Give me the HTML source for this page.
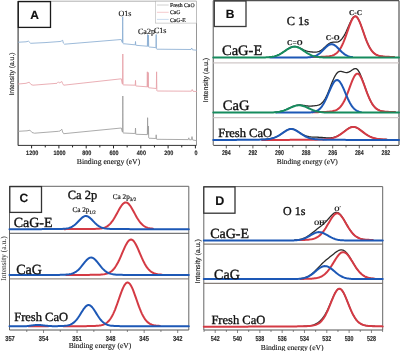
<!DOCTYPE html>
<html><head><meta charset="utf-8"><style>
html,body{margin:0;padding:0;background:#fff;}
body{width:400px;height:351px;overflow:hidden;}
svg{display:block;will-change:transform;filter:blur(0.35px);}
text{text-rendering:geometricPrecision;}
</style></head><body>
<svg width="400" height="351" viewBox="0 0 400 351">
<rect width="400" height="351" fill="#fff"/>
<line x1="18" y1="1.2" x2="196.5" y2="1.2" stroke="#9a9a9a" stroke-width="0.8"/>
<line x1="196.5" y1="1.2" x2="196.5" y2="145" stroke="#8a8a8a" stroke-width="0.9"/>
<line x1="18.1" y1="1.2" x2="18.1" y2="145.4" stroke="#444" stroke-width="1.2"/>
<line x1="18" y1="145.4" x2="196.5" y2="145.4" stroke="#333" stroke-width="1.0"/>
<rect x="18.3" y="1.6" width="32.2" height="25.8" fill="#fff" stroke="#1a1a1a" stroke-width="1.3"/>
<text x="34.5" y="18.8" font-family='"Liberation Sans", sans-serif' font-size="12" text-anchor="middle" font-weight="bold" fill="#111" stroke="#111" stroke-width="0.15" >A</text>
<rect x="155.6" y="1.2" width="40.9" height="21.9" fill="#fff" stroke="#b4b4b4" stroke-width="0.6"/>
<line x1="156.9" y1="5" x2="168.7" y2="5" stroke="#c4c4c4" stroke-width="0.8"/>
<line x1="156.9" y1="12.3" x2="168.7" y2="12.3" stroke="#f2bcc0" stroke-width="0.8"/>
<line x1="156.9" y1="19.4" x2="168.7" y2="19.4" stroke="#bcd2ea" stroke-width="0.8"/>
<text x="170" y="7" font-family='"Liberation Serif", serif' font-size="5.7" text-anchor="start" font-weight="normal" fill="#222" stroke="#222" stroke-width="0.2" >Fresh CaO</text>
<text x="170" y="14.4" font-family='"Liberation Serif", serif' font-size="5.7" text-anchor="start" font-weight="normal" fill="#222" stroke="#222" stroke-width="0.2" >CaG</text>
<text x="170" y="21.5" font-family='"Liberation Serif", serif' font-size="5.7" text-anchor="start" font-weight="normal" fill="#222" stroke="#222" stroke-width="0.2" >CaG-E</text>
<path d="M18.5,42.2 L26,41.8 L28.5,41.2 L30.7,43.3 L45,42.6 L60,41.5 L61.2,41.2 L62,40.6 L62.7,40.3 L63.3,43 L64.5,44.2 L121.2,39.5 L122.1,42.2 L122.45,42.6 L122.7,16.7 L122.95,43.3 L123.4,43.7 L134.8,44.8 L135.2,45 L135.5,41.5 L135.8,45.2 L136.2,45.3 L147.1,46.2 L147.35,46.2 L147.6,34.5 L147.85,46.3 L148.2,46.3 L148.45,35 L148.7,46.6 L149.2,47 L155.8,47.6 L155.95,47.6 L156.2,34.5 L156.45,48.8 L156.8,49.2 L191,49.5 L191.7,48 L192.5,49.8 L196.5,50.2" fill="none" stroke="#8aaed2" stroke-width="0.85" stroke-linejoin="round" stroke-linecap="round" />
<path d="M18.5,84 L26,83.3 L29.2,82.2 L31,84.5 L33,85.2 L57,83.3 L58.5,81.8 L59.5,83 L61.8,81.5 L62.6,83.5 L63.7,85.2 L121.3,78.8 L122.2,83.8 L122.55,84 L122.8,54 L123.05,84.7 L123.4,84.9 L134.8,85.2 L135.2,85.5 L135.5,80.4 L135.8,85.8 L136.2,86 L147,86.8 L147.1,86.8 L147.35,71.8 L147.6,87 L148,87 L148.25,72.5 L148.5,87.6 L149,87.8 L156.1,88.5 L156.35,88.5 L156.6,71.8 L156.85,90.6 L157.2,91 L191.5,91.2 L192.2,89.5 L193,91.3 L196.5,91.5" fill="none" stroke="#e6a0a8" stroke-width="0.85" stroke-linejoin="round" stroke-linecap="round" />
<path d="M18.5,131.3 L27,130.8 L30,130.2 L32,132.5 L34.5,133.2 L58.5,131.3 L60,131 L61.8,129.2 L62.6,132 L63.7,133.7 L121.3,128 L122.2,131.5 L122.55,132 L122.8,96 L123.05,132.8 L123.4,133 L134.8,133.5 L135.2,133.8 L135.5,128 L135.8,134.2 L136.2,134.3 L147.2,134.6 L147.35,134.6 L147.6,117.7 L147.85,134.2 L148.2,134.5 L148.45,126 L148.7,137.8 L149,138.2 L155.7,138.5 L155.95,138.6 L156.2,134.8 L156.45,139.1 L156.8,139.3 L188.3,139.6 L188.8,137.8 L189.3,139.7 L191.4,139.8 L192,136.6 L192.7,140 L196.5,140.6" fill="none" stroke="#9c9c9c" stroke-width="0.85" stroke-linejoin="round" stroke-linecap="round" />
<text x="118.5" y="15.8" font-family='"Liberation Serif", serif' font-size="8" text-anchor="start" font-weight="normal" fill="#111" stroke="#111" stroke-width="0.15" >O1s</text>
<text x="138" y="34.4" font-family='"Liberation Serif", serif' font-size="8" text-anchor="start" font-weight="normal" fill="#111" stroke="#111" stroke-width="0.15" >Ca2p</text>
<text x="154" y="33" font-family='"Liberation Serif", serif' font-size="8" text-anchor="start" font-weight="normal" fill="#111" stroke="#111" stroke-width="0.15" >C1s</text>
<line x1="195.4" y1="145.4" x2="195.4" y2="148.4" stroke="#222" stroke-width="1.0"/>
<line x1="181.75" y1="145.4" x2="181.75" y2="147.4" stroke="#222" stroke-width="1.0"/>
<line x1="168.1" y1="145.4" x2="168.1" y2="148.4" stroke="#222" stroke-width="1.0"/>
<line x1="154.45" y1="145.4" x2="154.45" y2="147.4" stroke="#222" stroke-width="1.0"/>
<line x1="140.8" y1="145.4" x2="140.8" y2="148.4" stroke="#222" stroke-width="1.0"/>
<line x1="127.15" y1="145.4" x2="127.15" y2="147.4" stroke="#222" stroke-width="1.0"/>
<line x1="113.5" y1="145.4" x2="113.5" y2="148.4" stroke="#222" stroke-width="1.0"/>
<line x1="99.85" y1="145.4" x2="99.85" y2="147.4" stroke="#222" stroke-width="1.0"/>
<line x1="86.2" y1="145.4" x2="86.2" y2="148.4" stroke="#222" stroke-width="1.0"/>
<line x1="72.55" y1="145.4" x2="72.55" y2="147.4" stroke="#222" stroke-width="1.0"/>
<line x1="58.9" y1="145.4" x2="58.9" y2="148.4" stroke="#222" stroke-width="1.0"/>
<line x1="45.25" y1="145.4" x2="45.25" y2="147.4" stroke="#222" stroke-width="1.0"/>
<line x1="31.6" y1="145.4" x2="31.6" y2="148.4" stroke="#222" stroke-width="1.0"/>
<text x="196" y="154.9" font-family='"Liberation Sans", sans-serif' font-size="6.3" text-anchor="middle" font-weight="bold" fill="#2a2a2a" stroke="#2a2a2a" stroke-width="0.15" textLength="3.05" lengthAdjust="spacingAndGlyphs">0</text>
<text x="168.7" y="154.9" font-family='"Liberation Sans", sans-serif' font-size="6.3" text-anchor="middle" font-weight="bold" fill="#2a2a2a" stroke="#2a2a2a" stroke-width="0.15" textLength="9.15" lengthAdjust="spacingAndGlyphs">200</text>
<text x="141.4" y="154.9" font-family='"Liberation Sans", sans-serif' font-size="6.3" text-anchor="middle" font-weight="bold" fill="#2a2a2a" stroke="#2a2a2a" stroke-width="0.15" textLength="9.15" lengthAdjust="spacingAndGlyphs">400</text>
<text x="114.1" y="154.9" font-family='"Liberation Sans", sans-serif' font-size="6.3" text-anchor="middle" font-weight="bold" fill="#2a2a2a" stroke="#2a2a2a" stroke-width="0.15" textLength="9.15" lengthAdjust="spacingAndGlyphs">600</text>
<text x="86.8" y="154.9" font-family='"Liberation Sans", sans-serif' font-size="6.3" text-anchor="middle" font-weight="bold" fill="#2a2a2a" stroke="#2a2a2a" stroke-width="0.15" textLength="9.15" lengthAdjust="spacingAndGlyphs">800</text>
<text x="59.5" y="154.9" font-family='"Liberation Sans", sans-serif' font-size="6.3" text-anchor="middle" font-weight="bold" fill="#2a2a2a" stroke="#2a2a2a" stroke-width="0.15" textLength="12.20" lengthAdjust="spacingAndGlyphs">1000</text>
<text x="32.2" y="154.9" font-family='"Liberation Sans", sans-serif' font-size="6.3" text-anchor="middle" font-weight="bold" fill="#2a2a2a" stroke="#2a2a2a" stroke-width="0.15" textLength="12.20" lengthAdjust="spacingAndGlyphs">1200</text>
<text x="108.5" y="163.8" font-family='"Liberation Serif", serif' font-size="7.7" text-anchor="middle" font-weight="normal" fill="#1a1a1a" stroke="#1a1a1a" stroke-width="0.15" >Binding energy (eV)</text>
<text x="0" y="0" font-family='"Liberation Sans", sans-serif' font-size="6.8" text-anchor="middle" font-weight="normal" fill="#222" stroke="#222" stroke-width="0.15" transform="translate(14.2,74) rotate(-90)">Intensity (a.u.)</text>
<line x1="213.3" y1="0.6" x2="399" y2="0.6" stroke="#505050" stroke-width="1.1"/>
<line x1="399" y1="0.8" x2="399" y2="145" stroke="#555" stroke-width="1.2"/>
<line x1="213.3" y1="0.8" x2="213.3" y2="145" stroke="#888" stroke-width="1.4"/>
<line x1="213.3" y1="145.4" x2="399" y2="145.4" stroke="#444" stroke-width="1.0"/>
<line x1="213.3" y1="62.9" x2="399" y2="62.9" stroke="#d0c8c8" stroke-width="1.4"/>
<line x1="213.3" y1="117.6" x2="399" y2="117.6" stroke="#d0c8c8" stroke-width="1.4"/>
<rect x="214.3" y="1" width="31.7" height="25.5" fill="#fff" stroke="#3a3a3a" stroke-width="1.3"/>
<text x="230" y="17.5" font-family='"Liberation Sans", sans-serif' font-size="12" text-anchor="middle" font-weight="bold" fill="#111" stroke="#111" stroke-width="0.15" >B</text>
<text x="286.8" y="24.6" font-family='"Liberation Serif", serif' font-size="12.3" text-anchor="start" font-weight="normal" fill="#111" stroke="#111" stroke-width="0.35" >C 1s</text>
<path d="M269.21,57.08 L270.21,56.98 L271.21,56.86 L272.2,56.7 L273.2,56.51 L274.2,56.28 L275.2,56.01 L276.2,55.69 L277.2,55.32 L278.2,54.89 L279.19,54.42 L280.19,53.89 L281.19,53.31 L282.19,52.69 L283.19,52.04 L284.19,51.36 L285.18,50.67 L286.18,49.98 L287.18,49.31 L288.18,48.67 L289.18,48.09 L290.18,47.58 L291.17,47.15 L292.17,46.82 L293.17,46.6 L294.17,46.49 L295.17,46.5 L296.17,46.62 L297.16,46.85 L298.16,47.17 L299.16,47.57 L300.16,48.03 L301.16,48.53 L302.16,49.04 L303.15,49.55 L304.15,50.02 L305.15,50.45 L306.15,50.83 L307.15,51.14 L308.15,51.4 L309.15,51.6 L310.14,51.76 L311.14,51.89 L312.14,51.99 L313.14,52.07 L314.14,52.12 L315.14,52.13 L316.13,52.09 L317.13,51.96 L318.13,51.73 L319.13,51.38 L320.13,50.9 L321.13,50.29 L322.12,49.56 L323.12,48.72 L324.12,47.81 L325.12,46.87 L326.12,45.92 L327.12,45.03 L328.11,44.22 L329.11,43.52 L330.11,42.97 L331.11,42.56 L332.11,42.3 L333.11,42.17 L334.1,42.14 L335.1,42.15 L336.1,42.14 L337.1,42.06 L338.1,41.84 L339.1,41.41 L340.1,40.76 L341.09,39.84 L342.09,38.66 L343.09,37.24 L344.09,35.59 L345.09,33.74 L346.09,31.72 L347.08,29.56 L348.08,27.31 L349.08,25.02 L350.08,22.79 L351.08,20.71 L352.08,18.9 L353.07,17.47 L354.07,16.52 L355.07,16.15 L356.07,16.38 L357.07,17.23 L358.07,18.65 L359.06,20.56 L360.06,22.87 L361.06,25.47 L362.06,28.26 L363.06,31.15 L364.06,34.03 L365.05,36.85 L366.05,39.53 L367.05,42.03 L368.05,44.32 L369.05,46.37 L370.05,48.19 L371.05,49.76 L372.04,51.1 L373.04,52.23 L374.04,53.16 L375.04,53.93 L376.04,54.55 L377.04,55.05 L378.03,55.44 L379.03,55.75 L380.03,56 L381.03,56.19 L382.03,56.34 L383.03,56.47 L384.02,56.56 L385.02,56.64 L386.02,56.71 L387.02,56.76 L388.02,56.81 L389.02,56.85 L390.01,56.89 L391.01,56.92 L392.01,56.95 L393.01,56.98 L394.01,57.01" fill="none" stroke="#2a2a2a" stroke-width="1.3" stroke-linejoin="round" stroke-linecap="round" />
<path d="M311.14,57.12 L312.14,57.1 L313.14,57.08 L314.14,57.06 L315.14,57.04 L316.13,57.02 L317.13,56.99 L318.13,56.97 L319.13,56.94 L320.13,56.91 L321.13,56.87 L322.12,56.83 L323.12,56.79 L324.12,56.73 L325.12,56.67 L326.12,56.6 L327.12,56.51 L328.11,56.4 L329.11,56.27 L330.11,56.09 L331.11,55.87 L332.11,55.59 L333.11,55.24 L334.1,54.79 L335.1,54.23 L336.1,53.53 L337.1,52.68 L338.1,51.64 L339.1,50.4 L340.1,48.94 L341.09,47.24 L342.09,45.29 L343.09,43.11 L344.09,40.71 L345.09,38.1 L346.09,35.34 L347.08,32.48 L348.08,29.59 L349.08,26.74 L350.08,24.05 L351.08,21.6 L352.08,19.5 L353.07,17.87 L354.07,16.79 L355.07,16.32 L356.07,16.49 L357.07,17.3 L358.07,18.69 L359.06,20.59 L360.06,22.89 L361.06,25.48 L362.06,28.27 L363.06,31.15 L364.06,34.04 L365.05,36.85 L366.05,39.53 L367.05,42.03 L368.05,44.32 L369.05,46.37 L370.05,48.19 L371.05,49.76 L372.04,51.1 L373.04,52.23 L374.04,53.16 L375.04,53.93 L376.04,54.55 L377.04,55.05 L378.03,55.44 L379.03,55.75 L380.03,56 L381.03,56.19 L382.03,56.34 L383.03,56.47 L384.02,56.56 L385.02,56.64 L386.02,56.71 L387.02,56.76 L388.02,56.81 L389.02,56.85 L390.01,56.89 L391.01,56.92 L392.01,56.95 L393.01,56.98 L394.01,57.01" fill="none" stroke="#d43a44" stroke-width="2.0" stroke-linejoin="round" stroke-linecap="round" />
<path d="M270.21,57.5 L271.21,57.5 L272.2,57.5 L273.2,57.5 L274.2,57.5 L275.2,57.5 L276.2,57.5 L277.2,57.5 L278.2,57.5 L279.19,57.5 L280.19,57.5 L281.19,57.5 L282.19,57.5 L283.19,57.5 L284.19,57.5 L285.18,57.5 L286.18,57.5 L287.18,57.5 L288.18,57.5 L289.18,57.5 L290.18,57.5 L291.17,57.5 L292.17,57.5 L293.17,57.5 L294.17,57.5 L295.17,57.5 L296.17,57.5 L297.16,57.5 L298.16,57.5 L299.16,57.5 L300.16,57.5 L301.16,57.49 L302.16,57.49 L303.15,57.48 L304.15,57.47 L305.15,57.46 L306.15,57.43 L307.15,57.4 L308.15,57.35 L309.15,57.28 L310.14,57.19 L311.14,57.06 L312.14,56.89 L313.14,56.67 L314.14,56.38 L315.14,56.03 L316.13,55.59 L317.13,55.06 L318.13,54.44 L319.13,53.72 L320.13,52.91 L321.13,52.01 L322.12,51.04 L323.12,50.03 L324.12,49 L325.12,47.98 L326.12,47.02 L327.12,46.14 L328.11,45.4 L329.11,44.81 L330.11,44.41 L331.11,44.22 L332.11,44.24 L333.11,44.48 L334.1,44.92 L335.1,45.55 L336.1,46.32 L337.1,47.22 L338.1,48.2 L339.1,49.22 L340.1,50.25 L341.09,51.26 L342.09,52.21 L343.09,53.09 L344.09,53.88 L345.09,54.58 L346.09,55.18 L347.08,55.69 L348.08,56.11 L349.08,56.45 L350.08,56.72 L351.08,56.93 L352.08,57.09" fill="none" stroke="#1d58b6" stroke-width="2.0" stroke-linejoin="round" stroke-linecap="round" />
<path d="M213.3,57.5 L214.3,57.5 L215.3,57.5 L216.3,57.5 L217.29,57.5 L218.29,57.5 L219.29,57.5 L220.29,57.5 L221.29,57.5 L222.29,57.5 L223.28,57.5 L224.28,57.5 L225.28,57.5 L226.28,57.5 L227.28,57.5 L228.28,57.5 L229.27,57.5 L230.27,57.5 L231.27,57.5 L232.27,57.5 L233.27,57.5 L234.27,57.5 L235.26,57.5 L236.26,57.5 L237.26,57.5 L238.26,57.5 L239.26,57.5 L240.26,57.5 L241.25,57.5 L242.25,57.5 L243.25,57.5 L244.25,57.5 L245.25,57.5 L246.25,57.5 L247.25,57.5 L248.24,57.5 L249.24,57.5 L250.24,57.5 L251.24,57.5 L252.24,57.5 L253.24,57.5 L254.23,57.5 L255.23,57.5 L256.23,57.5 L257.23,57.5 L258.23,57.49 L259.23,57.49 L260.22,57.48 L261.22,57.48 L262.22,57.47 L263.22,57.45 L264.22,57.43 L265.22,57.41 L266.21,57.37 L267.21,57.33 L268.21,57.27 L269.21,57.19 L270.21,57.09 L271.21,56.97 L272.2,56.81 L273.2,56.62 L274.2,56.4 L275.2,56.13 L276.2,55.81 L277.2,55.44 L278.2,55.02 L279.19,54.55 L280.19,54.03 L281.19,53.45 L282.19,52.84 L283.19,52.19 L284.19,51.51 L285.18,50.82 L286.18,50.14 L287.18,49.47 L288.18,48.84 L289.18,48.27 L290.18,47.76 L291.17,47.34 L292.17,47.02 L293.17,46.81 L294.17,46.71 L295.17,46.73 L296.17,46.86 L297.16,47.12 L298.16,47.47 L299.16,47.92 L300.16,48.46 L301.16,49.05 L302.16,49.69 L303.15,50.37 L304.15,51.06 L305.15,51.74 L306.15,52.41 L307.15,53.05 L308.15,53.65 L309.15,54.21 L310.14,54.72 L311.14,55.17 L312.14,55.57 L313.14,55.92 L314.14,56.22 L315.14,56.48 L316.13,56.69 L317.13,56.87 L318.13,57.01 L319.13,57.13 L320.13,57.22 L321.13,57.29 L322.12,57.34 L323.12,57.38 L324.12,57.42 L325.12,57.44 L326.12,57.46 L327.12,57.47 L328.11,57.48 L329.11,57.49 L330.11,57.49 L331.11,57.49 L332.11,57.5 L333.11,57.5 L334.1,57.5 L335.1,57.5 L336.1,57.5 L337.1,57.5 L338.1,57.5 L339.1,57.5 L340.1,57.5 L341.09,57.5 L342.09,57.5 L343.09,57.5 L344.09,57.5 L345.09,57.5 L346.09,57.5 L347.08,57.5 L348.08,57.5 L349.08,57.5 L350.08,57.5 L351.08,57.5 L352.08,57.5 L353.07,57.5 L354.07,57.5 L355.07,57.5 L356.07,57.5 L357.07,57.5 L358.07,57.5 L359.06,57.5 L360.06,57.5 L361.06,57.5 L362.06,57.5 L363.06,57.5 L364.06,57.5 L365.05,57.5 L366.05,57.5 L367.05,57.5 L368.05,57.5 L369.05,57.5 L370.05,57.5 L371.05,57.5 L372.04,57.5 L373.04,57.5 L374.04,57.5 L375.04,57.5 L376.04,57.5 L377.04,57.5 L378.03,57.5 L379.03,57.5 L380.03,57.5 L381.03,57.5 L382.03,57.5 L383.03,57.5 L384.02,57.5 L385.02,57.5 L386.02,57.5 L387.02,57.5 L388.02,57.5 L389.02,57.5 L390.01,57.5 L391.01,57.5 L392.01,57.5 L393.01,57.5 L394.01,57.5 L395.01,57.5 L396,57.5 L397,57.5 L398,57.5 L399,57.5" fill="none" stroke="#168c5e" stroke-width="2.0" stroke-linejoin="round" stroke-linecap="round" />
<text x="222" y="54.8" font-family='"Liberation Serif", serif' font-size="14.5" text-anchor="start" font-weight="normal" fill="#111" stroke="#111" stroke-width="0.35" >CaG-E</text>
<text x="294.8" y="44.6" font-family='"Liberation Serif", serif' font-size="7.5" text-anchor="middle" font-weight="bold" fill="#1a1a1a" stroke="#1a1a1a" stroke-width="0.15" >C=O</text>
<text x="332.6" y="39.5" font-family='"Liberation Serif", serif' font-size="7.5" text-anchor="middle" font-weight="bold" fill="#1a1a1a" stroke="#1a1a1a" stroke-width="0.15" >C-O</text>
<text x="355.6" y="14.6" font-family='"Liberation Serif", serif' font-size="7.5" text-anchor="middle" font-weight="bold" fill="#1a1a1a" stroke="#1a1a1a" stroke-width="0.15" >C-C</text>
<path d="M275.2,112.17 L276.2,112.08 L277.2,111.96 L278.2,111.82 L279.19,111.65 L280.19,111.45 L281.19,111.21 L282.19,110.95 L283.19,110.64 L284.19,110.3 L285.18,109.92 L286.18,109.52 L287.18,109.09 L288.18,108.63 L289.18,108.17 L290.18,107.7 L291.17,107.23 L292.17,106.79 L293.17,106.37 L294.17,106 L295.17,105.67 L296.17,105.41 L297.16,105.21 L298.16,105.08 L299.16,105.01 L300.16,105.02 L301.16,105.08 L302.16,105.19 L303.15,105.33 L304.15,105.49 L305.15,105.66 L306.15,105.81 L307.15,105.93 L308.15,106.02 L309.15,106.07 L310.14,106.08 L311.14,106.05 L312.14,105.99 L313.14,105.91 L314.14,105.81 L315.14,105.7 L316.13,105.57 L317.13,105.39 L318.13,105.15 L319.13,104.82 L320.13,104.35 L321.13,103.7 L322.12,102.84 L323.12,101.74 L324.12,100.38 L325.12,98.76 L326.12,96.87 L327.12,94.75 L328.11,92.44 L329.11,89.97 L330.11,87.43 L331.11,84.86 L332.11,82.35 L333.11,79.97 L334.1,77.79 L335.1,75.86 L336.1,74.25 L337.1,72.99 L338.1,72.09 L339.1,71.55 L340.1,71.33 L341.09,71.37 L342.09,71.6 L343.09,71.91 L344.09,72.22 L345.09,72.46 L346.09,72.56 L347.08,72.5 L348.08,72.27 L349.08,71.89 L350.08,71.37 L351.08,70.75 L352.08,70.08 L353.07,69.42 L354.07,68.88 L355.07,68.6 L356.07,68.68 L357.07,69.24 L358.07,70.3 L359.06,71.86 L360.06,73.85 L361.06,76.18 L362.06,78.76 L363.06,81.51 L364.06,84.34 L365.05,87.19 L366.05,90 L367.05,92.72 L368.05,95.3 L369.05,97.7 L370.05,99.9 L371.05,101.87 L372.04,103.61 L373.04,105.12 L374.04,106.42 L375.04,107.51 L376.04,108.41 L377.04,109.15 L378.03,109.75 L379.03,110.23 L380.03,110.62 L381.03,110.92 L382.03,111.16 L383.03,111.34 L384.02,111.49 L385.02,111.61 L386.02,111.7 L387.02,111.78 L388.02,111.84 L389.02,111.9 L390.01,111.94 L391.01,111.98 L392.01,112.02 L393.01,112.05 L394.01,112.08 L395.01,112.11" fill="none" stroke="#2a2a2a" stroke-width="1.3" stroke-linejoin="round" stroke-linecap="round" />
<path d="M312.14,112.25 L313.14,112.24 L314.14,112.22 L315.14,112.2 L316.13,112.19 L317.13,112.17 L318.13,112.14 L319.13,112.12 L320.13,112.1 L321.13,112.07 L322.12,112.04 L323.12,112.01 L324.12,111.97 L325.12,111.93 L326.12,111.88 L327.12,111.82 L328.11,111.76 L329.11,111.67 L330.11,111.57 L331.11,111.45 L332.11,111.29 L333.11,111.08 L334.1,110.83 L335.1,110.5 L336.1,110.08 L337.1,109.56 L338.1,108.92 L339.1,108.13 L340.1,107.16 L341.09,106.01 L342.09,104.65 L343.09,103.06 L344.09,101.25 L345.09,99.2 L346.09,96.95 L347.08,94.5 L348.08,91.9 L349.08,89.2 L350.08,86.46 L351.08,83.76 L352.08,81.19 L353.07,78.84 L354.07,76.82 L355.07,75.22 L356.07,74.14 L357.07,73.63 L358.07,73.74 L359.06,74.44 L360.06,75.7 L361.06,77.45 L362.06,79.59 L363.06,82.03 L364.06,84.65 L365.05,87.37 L366.05,90.11 L367.05,92.78 L368.05,95.34 L369.05,97.72 L370.05,99.91 L371.05,101.88 L372.04,103.62 L373.04,105.13 L374.04,106.42 L375.04,107.51 L376.04,108.41 L377.04,109.15 L378.03,109.75 L379.03,110.23 L380.03,110.62 L381.03,110.92 L382.03,111.16 L383.03,111.34 L384.02,111.49 L385.02,111.61 L386.02,111.7 L387.02,111.78 L388.02,111.84 L389.02,111.9 L390.01,111.94 L391.01,111.98 L392.01,112.02 L393.01,112.05 L394.01,112.08 L395.01,112.11" fill="none" stroke="#d43a44" stroke-width="2.0" stroke-linejoin="round" stroke-linecap="round" />
<path d="M276.2,112.6 L277.2,112.6 L278.2,112.6 L279.19,112.6 L280.19,112.6 L281.19,112.6 L282.19,112.6 L283.19,112.6 L284.19,112.6 L285.18,112.6 L286.18,112.6 L287.18,112.6 L288.18,112.6 L289.18,112.6 L290.18,112.6 L291.17,112.6 L292.17,112.6 L293.17,112.6 L294.17,112.6 L295.17,112.6 L296.17,112.6 L297.16,112.6 L298.16,112.6 L299.16,112.6 L300.16,112.6 L301.16,112.6 L302.16,112.6 L303.15,112.59 L304.15,112.59 L305.15,112.58 L306.15,112.57 L307.15,112.55 L308.15,112.52 L309.15,112.48 L310.14,112.43 L311.14,112.35 L312.14,112.23 L313.14,112.08 L314.14,111.87 L315.14,111.59 L316.13,111.22 L317.13,110.74 L318.13,110.14 L319.13,109.39 L320.13,108.47 L321.13,107.36 L322.12,106.06 L323.12,104.54 L324.12,102.82 L325.12,100.9 L326.12,98.8 L327.12,96.56 L328.11,94.22 L329.11,91.84 L330.11,89.5 L331.11,87.26 L332.11,85.2 L333.11,83.4 L334.1,81.92 L335.1,80.84 L336.1,80.19 L337.1,80 L338.1,80.28 L339.1,81.02 L340.1,82.19 L341.09,83.73 L342.09,85.59 L343.09,87.69 L344.09,89.96 L345.09,92.32 L346.09,94.69 L347.08,97.02 L348.08,99.23 L349.08,101.3 L350.08,103.18 L351.08,104.86 L352.08,106.34 L353.07,107.6 L354.07,108.67 L355.07,109.55 L356.07,110.27 L357.07,110.85 L358.07,111.3 L359.06,111.65 L360.06,111.91 L361.06,112.11" fill="none" stroke="#1d58b6" stroke-width="2.0" stroke-linejoin="round" stroke-linecap="round" />
<path d="M213.3,112.6 L214.3,112.6 L215.3,112.6 L216.3,112.6 L217.29,112.6 L218.29,112.6 L219.29,112.6 L220.29,112.6 L221.29,112.6 L222.29,112.6 L223.28,112.6 L224.28,112.6 L225.28,112.6 L226.28,112.6 L227.28,112.6 L228.28,112.6 L229.27,112.6 L230.27,112.6 L231.27,112.6 L232.27,112.6 L233.27,112.6 L234.27,112.6 L235.26,112.6 L236.26,112.6 L237.26,112.6 L238.26,112.6 L239.26,112.6 L240.26,112.6 L241.25,112.6 L242.25,112.6 L243.25,112.6 L244.25,112.6 L245.25,112.6 L246.25,112.6 L247.25,112.6 L248.24,112.6 L249.24,112.6 L250.24,112.6 L251.24,112.6 L252.24,112.6 L253.24,112.6 L254.23,112.6 L255.23,112.6 L256.23,112.6 L257.23,112.6 L258.23,112.6 L259.23,112.6 L260.22,112.6 L261.22,112.6 L262.22,112.6 L263.22,112.59 L264.22,112.59 L265.22,112.59 L266.21,112.58 L267.21,112.57 L268.21,112.56 L269.21,112.55 L270.21,112.53 L271.21,112.5 L272.2,112.46 L273.2,112.42 L274.2,112.36 L275.2,112.28 L276.2,112.19 L277.2,112.08 L278.2,111.94 L279.19,111.77 L280.19,111.57 L281.19,111.34 L282.19,111.07 L283.19,110.77 L284.19,110.44 L285.18,110.06 L286.18,109.66 L287.18,109.23 L288.18,108.78 L289.18,108.32 L290.18,107.86 L291.17,107.4 L292.17,106.96 L293.17,106.55 L294.17,106.19 L295.17,105.87 L296.17,105.62 L297.16,105.43 L298.16,105.33 L299.16,105.3 L300.16,105.35 L301.16,105.49 L302.16,105.69 L303.15,105.97 L304.15,106.3 L305.15,106.68 L306.15,107.1 L307.15,107.55 L308.15,108.01 L309.15,108.47 L310.14,108.93 L311.14,109.37 L312.14,109.8 L313.14,110.19 L314.14,110.55 L315.14,110.87 L316.13,111.16 L317.13,111.42 L318.13,111.64 L319.13,111.83 L320.13,111.98 L321.13,112.12 L322.12,112.22 L323.12,112.31 L324.12,112.38 L325.12,112.43 L326.12,112.48 L327.12,112.51 L328.11,112.53 L329.11,112.55 L330.11,112.57 L331.11,112.58 L332.11,112.58 L333.11,112.59 L334.1,112.59 L335.1,112.59 L336.1,112.6 L337.1,112.6 L338.1,112.6 L339.1,112.6 L340.1,112.6 L341.09,112.6 L342.09,112.6 L343.09,112.6 L344.09,112.6 L345.09,112.6 L346.09,112.6 L347.08,112.6 L348.08,112.6 L349.08,112.6 L350.08,112.6 L351.08,112.6 L352.08,112.6 L353.07,112.6 L354.07,112.6 L355.07,112.6 L356.07,112.6 L357.07,112.6 L358.07,112.6 L359.06,112.6 L360.06,112.6 L361.06,112.6 L362.06,112.6 L363.06,112.6 L364.06,112.6 L365.05,112.6 L366.05,112.6 L367.05,112.6 L368.05,112.6 L369.05,112.6 L370.05,112.6 L371.05,112.6 L372.04,112.6 L373.04,112.6 L374.04,112.6 L375.04,112.6 L376.04,112.6 L377.04,112.6 L378.03,112.6 L379.03,112.6 L380.03,112.6 L381.03,112.6 L382.03,112.6 L383.03,112.6 L384.02,112.6 L385.02,112.6 L386.02,112.6 L387.02,112.6 L388.02,112.6 L389.02,112.6 L390.01,112.6 L391.01,112.6 L392.01,112.6 L393.01,112.6 L394.01,112.6 L395.01,112.6 L396,112.6 L397,112.6 L398,112.6 L399,112.6" fill="none" stroke="#168c5e" stroke-width="2.0" stroke-linejoin="round" stroke-linecap="round" />
<text x="222.8" y="110" font-family='"Liberation Serif", serif' font-size="14.5" text-anchor="start" font-weight="normal" fill="#111" stroke="#111" stroke-width="0.35" >CaG</text>
<path d="M261.22,139.52 L262.22,139.48 L263.22,139.44 L264.22,139.38 L265.22,139.31 L266.21,139.23 L267.21,139.13 L268.21,139 L269.21,138.86 L270.21,138.68 L271.21,138.47 L272.2,138.23 L273.2,137.94 L274.2,137.6 L275.2,137.22 L276.2,136.79 L277.2,136.31 L278.2,135.78 L279.19,135.2 L280.19,134.58 L281.19,133.93 L282.19,133.25 L283.19,132.56 L284.19,131.88 L285.18,131.21 L286.18,130.59 L287.18,130.03 L288.18,129.56 L289.18,129.2 L290.18,128.96 L291.17,128.86 L292.17,128.91 L293.17,129.1 L294.17,129.42 L295.17,129.84 L296.17,130.36 L297.16,130.94 L298.16,131.57 L299.16,132.21 L300.16,132.85 L301.16,133.48 L302.16,134.07 L303.15,134.62 L304.15,135.12 L305.15,135.56 L306.15,135.94 L307.15,136.25 L308.15,136.51 L309.15,136.71 L310.14,136.86 L311.14,136.97 L312.14,137.04 L313.14,137.09 L314.14,137.12 L315.14,137.14 L316.13,137.17 L317.13,137.19 L318.13,137.23 L319.13,137.28 L320.13,137.34 L321.13,137.42 L322.12,137.5 L323.12,137.59 L324.12,137.68 L325.12,137.76 L326.12,137.83 L327.12,137.88 L328.11,137.91 L329.11,137.9 L330.11,137.85 L331.11,137.76 L332.11,137.62 L333.11,137.42 L334.1,137.17 L335.1,136.86 L336.1,136.49 L337.1,136.06 L338.1,135.57 L339.1,135.01 L340.1,134.4 L341.09,133.75 L342.09,133.05 L343.09,132.31 L344.09,131.56 L345.09,130.8 L346.09,130.05 L347.08,129.33 L348.08,128.66 L349.08,128.06 L350.08,127.56 L351.08,127.17 L352.08,126.91 L353.07,126.81 L354.07,126.85 L355.07,127.05 L356.07,127.38 L357.07,127.84 L358.07,128.41 L359.06,129.06 L360.06,129.77 L361.06,130.52 L362.06,131.28 L363.06,132.05 L364.06,132.81 L365.05,133.54 L366.05,134.23 L367.05,134.88 L368.05,135.49 L369.05,136.04 L370.05,136.54 L371.05,136.99 L372.04,137.39 L373.04,137.74 L374.04,138.04 L375.04,138.3 L376.04,138.52 L377.04,138.71 L378.03,138.87 L379.03,139 L380.03,139.11 L381.03,139.21 L382.03,139.28 L383.03,139.35 L384.02,139.4 L385.02,139.45 L386.02,139.49 L387.02,139.52" fill="none" stroke="#2a2a2a" stroke-width="1.3" stroke-linejoin="round" stroke-linecap="round" />
<path d="M262.22,139.94 L263.22,139.94 L264.22,139.94 L265.22,139.93 L266.21,139.93 L267.21,139.93 L268.21,139.93 L269.21,139.93 L270.21,139.93 L271.21,139.92 L272.2,139.92 L273.2,139.92 L274.2,139.92 L275.2,139.92 L276.2,139.91 L277.2,139.91 L278.2,139.91 L279.19,139.91 L280.19,139.9 L281.19,139.9 L282.19,139.9 L283.19,139.9 L284.19,139.89 L285.18,139.89 L286.18,139.89 L287.18,139.88 L288.18,139.88 L289.18,139.88 L290.18,139.87 L291.17,139.87 L292.17,139.86 L293.17,139.86 L294.17,139.86 L295.17,139.85 L296.17,139.85 L297.16,139.84 L298.16,139.84 L299.16,139.83 L300.16,139.82 L301.16,139.82 L302.16,139.81 L303.15,139.8 L304.15,139.79 L305.15,139.79 L306.15,139.78 L307.15,139.77 L308.15,139.76 L309.15,139.75 L310.14,139.74 L311.14,139.73 L312.14,139.71 L313.14,139.7 L314.14,139.68 L315.14,139.67 L316.13,139.65 L317.13,139.63 L318.13,139.6 L319.13,139.58 L320.13,139.55 L321.13,139.51 L322.12,139.47 L323.12,139.42 L324.12,139.36 L325.12,139.29 L326.12,139.2 L327.12,139.1 L328.11,138.98 L329.11,138.84 L330.11,138.66 L331.11,138.46 L332.11,138.22 L333.11,137.94 L334.1,137.61 L335.1,137.24 L336.1,136.81 L337.1,136.34 L338.1,135.81 L339.1,135.23 L340.1,134.6 L341.09,133.92 L342.09,133.21 L343.09,132.47 L344.09,131.7 L345.09,130.94 L346.09,130.18 L347.08,129.46 L348.08,128.78 L349.08,128.18 L350.08,127.67 L351.08,127.27 L352.08,127.02 L353.07,126.9 L354.07,126.95 L355.07,127.14 L356.07,127.47 L357.07,127.93 L358.07,128.5 L359.06,129.14 L360.06,129.85 L361.06,130.59 L362.06,131.36 L363.06,132.12 L364.06,132.88 L365.05,133.61 L366.05,134.3 L367.05,134.95 L368.05,135.55 L369.05,136.11 L370.05,136.61 L371.05,137.05 L372.04,137.45 L373.04,137.79 L374.04,138.09 L375.04,138.35 L376.04,138.57 L377.04,138.76 L378.03,138.92 L379.03,139.05 L380.03,139.16 L381.03,139.25 L382.03,139.33 L383.03,139.39 L384.02,139.45 L385.02,139.49 L386.02,139.53" fill="none" stroke="#d43a44" stroke-width="2.0" stroke-linejoin="round" stroke-linecap="round" />
<path d="M213.3,139.94 L214.3,139.94 L215.3,139.93 L216.3,139.93 L217.29,139.93 L218.29,139.93 L219.29,139.93 L220.29,139.92 L221.29,139.92 L222.29,139.92 L223.28,139.92 L224.28,139.92 L225.28,139.91 L226.28,139.91 L227.28,139.91 L228.28,139.91 L229.27,139.9 L230.27,139.9 L231.27,139.9 L232.27,139.89 L233.27,139.89 L234.27,139.89 L235.26,139.88 L236.26,139.88 L237.26,139.87 L238.26,139.87 L239.26,139.86 L240.26,139.86 L241.25,139.85 L242.25,139.85 L243.25,139.84 L244.25,139.83 L245.25,139.83 L246.25,139.82 L247.25,139.81 L248.24,139.8 L249.24,139.79 L250.24,139.78 L251.24,139.77 L252.24,139.76 L253.24,139.75 L254.23,139.74 L255.23,139.72 L256.23,139.71 L257.23,139.69 L258.23,139.67 L259.23,139.64 L260.22,139.62 L261.22,139.58 L262.22,139.55 L263.22,139.5 L264.22,139.44 L265.22,139.38 L266.21,139.29 L267.21,139.19 L268.21,139.07 L269.21,138.93 L270.21,138.76 L271.21,138.55 L272.2,138.3 L273.2,138.02 L274.2,137.69 L275.2,137.31 L276.2,136.88 L277.2,136.4 L278.2,135.87 L279.19,135.29 L280.19,134.68 L281.19,134.03 L282.19,133.35 L283.19,132.67 L284.19,131.98 L285.18,131.32 L286.18,130.71 L287.18,130.15 L288.18,129.68 L289.18,129.32 L290.18,129.09 L291.17,129 L292.17,129.06 L293.17,129.25 L294.17,129.58 L295.17,130.02 L296.17,130.56 L297.16,131.16 L298.16,131.82 L299.16,132.49 L300.16,133.18 L301.16,133.86 L302.16,134.52 L303.15,135.14 L304.15,135.73 L305.15,136.27 L306.15,136.76 L307.15,137.2 L308.15,137.59 L309.15,137.94 L310.14,138.24 L311.14,138.49 L312.14,138.71 L313.14,138.89 L314.14,139.04 L315.14,139.17 L316.13,139.27 L317.13,139.36 L318.13,139.43 L319.13,139.49 L320.13,139.53 L321.13,139.58 L322.12,139.61 L323.12,139.64 L324.12,139.66 L325.12,139.68 L326.12,139.7 L327.12,139.72 L328.11,139.73 L329.11,139.75 L330.11,139.76 L331.11,139.77 L332.11,139.78 L333.11,139.79 L334.1,139.8 L335.1,139.81 L336.1,139.82 L337.1,139.83 L338.1,139.83 L339.1,139.84 L340.1,139.85 L341.09,139.85 L342.09,139.86 L343.09,139.86 L344.09,139.87 L345.09,139.87 L346.09,139.88 L347.08,139.88 L348.08,139.88 L349.08,139.89 L350.08,139.89 L351.08,139.9 L352.08,139.9 L353.07,139.9 L354.07,139.9 L355.07,139.91 L356.07,139.91 L357.07,139.91 L358.07,139.92 L359.06,139.92 L360.06,139.92 L361.06,139.92 L362.06,139.92 L363.06,139.93 L364.06,139.93 L365.05,139.93 L366.05,139.93 L367.05,139.93 L368.05,139.94 L369.05,139.94 L370.05,139.94 L371.05,139.94 L372.04,139.94 L373.04,139.94 L374.04,139.94 L375.04,139.95 L376.04,139.95 L377.04,139.95 L378.03,139.95 L379.03,139.95 L380.03,139.95 L381.03,139.95 L382.03,139.95 L383.03,139.95 L384.02,139.96 L385.02,139.96 L386.02,139.96 L387.02,139.96 L388.02,139.96 L389.02,139.96 L390.01,139.96 L391.01,139.96 L392.01,139.96 L393.01,139.96 L394.01,139.96 L395.01,139.96 L396,139.97 L397,139.97 L398,139.97 L399,139.97" fill="none" stroke="#1d58b6" stroke-width="2.0" stroke-linejoin="round" stroke-linecap="round" />
<text x="218.2" y="136.9" font-family='"Liberation Serif", serif' font-size="12.5" text-anchor="start" font-weight="normal" fill="#111" stroke="#111" stroke-width="0.35" >Fresh CaO</text>
<line x1="385.9" y1="145.4" x2="385.9" y2="148.4" stroke="#333" stroke-width="0.8"/>
<line x1="372.6" y1="145.4" x2="372.6" y2="147.4" stroke="#333" stroke-width="0.8"/>
<line x1="359.3" y1="145.4" x2="359.3" y2="148.4" stroke="#333" stroke-width="0.8"/>
<line x1="346" y1="145.4" x2="346" y2="147.4" stroke="#333" stroke-width="0.8"/>
<line x1="332.7" y1="145.4" x2="332.7" y2="148.4" stroke="#333" stroke-width="0.8"/>
<line x1="319.4" y1="145.4" x2="319.4" y2="147.4" stroke="#333" stroke-width="0.8"/>
<line x1="306.1" y1="145.4" x2="306.1" y2="148.4" stroke="#333" stroke-width="0.8"/>
<line x1="292.8" y1="145.4" x2="292.8" y2="147.4" stroke="#333" stroke-width="0.8"/>
<line x1="279.5" y1="145.4" x2="279.5" y2="148.4" stroke="#333" stroke-width="0.8"/>
<line x1="266.2" y1="145.4" x2="266.2" y2="147.4" stroke="#333" stroke-width="0.8"/>
<line x1="252.9" y1="145.4" x2="252.9" y2="148.4" stroke="#333" stroke-width="0.8"/>
<line x1="239.6" y1="145.4" x2="239.6" y2="147.4" stroke="#333" stroke-width="0.8"/>
<line x1="226.3" y1="145.4" x2="226.3" y2="148.4" stroke="#333" stroke-width="0.8"/>
<text x="385.9" y="154.7" font-family='"Liberation Sans", sans-serif' font-size="7" text-anchor="middle" font-weight="bold" fill="#2a2a2a" stroke="#2a2a2a" stroke-width="0.15" textLength="8.8" lengthAdjust="spacingAndGlyphs">282</text>
<text x="359.3" y="154.7" font-family='"Liberation Sans", sans-serif' font-size="7" text-anchor="middle" font-weight="bold" fill="#2a2a2a" stroke="#2a2a2a" stroke-width="0.15" textLength="8.8" lengthAdjust="spacingAndGlyphs">284</text>
<text x="332.7" y="154.7" font-family='"Liberation Sans", sans-serif' font-size="7" text-anchor="middle" font-weight="bold" fill="#2a2a2a" stroke="#2a2a2a" stroke-width="0.15" textLength="8.8" lengthAdjust="spacingAndGlyphs">286</text>
<text x="306.1" y="154.7" font-family='"Liberation Sans", sans-serif' font-size="7" text-anchor="middle" font-weight="bold" fill="#2a2a2a" stroke="#2a2a2a" stroke-width="0.15" textLength="8.8" lengthAdjust="spacingAndGlyphs">288</text>
<text x="279.5" y="154.7" font-family='"Liberation Sans", sans-serif' font-size="7" text-anchor="middle" font-weight="bold" fill="#2a2a2a" stroke="#2a2a2a" stroke-width="0.15" textLength="8.8" lengthAdjust="spacingAndGlyphs">290</text>
<text x="252.9" y="154.7" font-family='"Liberation Sans", sans-serif' font-size="7" text-anchor="middle" font-weight="bold" fill="#2a2a2a" stroke="#2a2a2a" stroke-width="0.15" textLength="8.8" lengthAdjust="spacingAndGlyphs">292</text>
<text x="226.3" y="154.7" font-family='"Liberation Sans", sans-serif' font-size="7" text-anchor="middle" font-weight="bold" fill="#2a2a2a" stroke="#2a2a2a" stroke-width="0.15" textLength="8.8" lengthAdjust="spacingAndGlyphs">294</text>
<text x="307.3" y="163.8" font-family='"Liberation Serif", serif' font-size="7.4" text-anchor="middle" font-weight="normal" fill="#1a1a1a" stroke="#1a1a1a" stroke-width="0.15" >Binding energy (eV)</text>
<text x="0" y="0" font-family='"Liberation Sans", sans-serif' font-size="7.0" text-anchor="middle" font-weight="normal" fill="#222" stroke="#222" stroke-width="0.15" transform="translate(207.8,80) rotate(-90)">Intensity (a.u.)</text>
<line x1="9.5" y1="186.3" x2="188.8" y2="186.3" stroke="#666" stroke-width="1.0"/>
<line x1="188.8" y1="186.3" x2="188.8" y2="330" stroke="#666" stroke-width="1.0"/>
<line x1="9.5" y1="186.3" x2="9.5" y2="330" stroke="#666" stroke-width="1.0"/>
<line x1="9.5" y1="330" x2="188.8" y2="330" stroke="#555" stroke-width="1.0"/>
<line x1="9.5" y1="233.3" x2="188.8" y2="233.3" stroke="#555" stroke-width="1.0"/>
<line x1="9.5" y1="278.9" x2="188.8" y2="278.9" stroke="#7a7068" stroke-width="1.0"/>
<rect x="9.8" y="186.6" width="31.7" height="25.8" fill="#fff" stroke="#333" stroke-width="1.3"/>
<text x="23.8" y="201.6" font-family='"Liberation Sans", sans-serif' font-size="12" text-anchor="middle" font-weight="bold" fill="#111" stroke="#111" stroke-width="0.15" >C</text>
<text x="67.7" y="199.3" font-family='"Liberation Serif", serif' font-size="12.5" text-anchor="start" font-weight="normal" fill="#111" stroke="#111" stroke-width="0.35" >Ca 2p</text>
<text x="72.4" y="211.8" font-family='"Liberation Serif", serif' font-size="7.2" text-anchor="start" font-weight="normal" fill="#1a1a1a" stroke="#1a1a1a" stroke-width="0.2" >Ca 2p<tspan font-size="5" dy="1.9">1/2</tspan></text>
<text x="112.8" y="199.3" font-family='"Liberation Serif", serif' font-size="7.2" text-anchor="start" font-weight="normal" fill="#1a1a1a" stroke="#1a1a1a" stroke-width="0.2" >Ca 2p<tspan font-size="5" dy="1.9">3/2</tspan></text>
<path d="M64.29,229.13 L65.28,229.13 L66.28,229.12 L67.27,229.12 L68.27,229.12 L69.27,229.12 L70.26,229.11 L71.26,229.11 L72.26,229.11 L73.25,229.1 L74.25,229.1 L75.24,229.1 L76.24,229.09 L77.24,229.09 L78.23,229.08 L79.23,229.08 L80.22,229.07 L81.22,229.07 L82.22,229.06 L83.21,229.06 L84.21,229.05 L85.2,229.04 L86.2,229.03 L87.2,229.03 L88.19,229.02 L89.19,229.01 L90.19,229 L91.18,228.98 L92.18,228.97 L93.17,228.95 L94.17,228.92 L95.17,228.89 L96.16,228.86 L97.16,228.81 L98.15,228.75 L99.15,228.66 L100.15,228.56 L101.14,228.42 L102.14,228.24 L103.13,228.01 L104.13,227.71 L105.13,227.34 L106.12,226.88 L107.12,226.31 L108.12,225.63 L109.11,224.81 L110.11,223.85 L111.1,222.74 L112.1,221.47 L113.1,220.06 L114.09,218.51 L115.09,216.83 L116.08,215.06 L117.08,213.24 L118.08,211.39 L119.07,209.58 L120.07,207.85 L121.06,206.27 L122.06,204.9 L123.06,203.78 L124.05,202.97 L125.05,202.51 L126.05,202.41 L127.04,202.69 L128.04,203.33 L129.03,204.29 L130.03,205.55 L131.03,207.03 L132.02,208.69 L133.02,210.46 L134.01,212.3 L135.01,214.14 L136.01,215.94 L137,217.67 L138,219.29 L138.99,220.77 L139.99,222.11 L140.99,223.3 L141.98,224.34 L142.98,225.23 L143.97,225.98 L144.97,226.6 L145.97,227.12 L146.96,227.53 L147.96,227.86 L148.96,228.13 L149.95,228.33 L150.95,228.49 L151.94,228.61 L152.94,228.71" fill="none" stroke="#d43a44" stroke-width="2.0" stroke-linejoin="round" stroke-linecap="round" />
<path d="M9.5,229.17 L10.5,229.17 L11.49,229.17 L12.49,229.17 L13.48,229.17 L14.48,229.17 L15.48,229.17 L16.47,229.17 L17.47,229.17 L18.46,229.17 L19.46,229.17 L20.46,229.17 L21.45,229.16 L22.45,229.16 L23.45,229.16 L24.44,229.16 L25.44,229.16 L26.43,229.16 L27.43,229.16 L28.43,229.16 L29.42,229.15 L30.42,229.15 L31.41,229.15 L32.41,229.15 L33.41,229.15 L34.4,229.14 L35.4,229.14 L36.4,229.14 L37.39,229.14 L38.39,229.14 L39.38,229.13 L40.38,229.13 L41.38,229.13 L42.37,229.12 L43.37,229.12 L44.36,229.12 L45.36,229.11 L46.36,229.11 L47.35,229.1 L48.35,229.1 L49.34,229.09 L50.34,229.09 L51.34,229.08 L52.33,229.07 L53.33,229.07 L54.33,229.06 L55.32,229.05 L56.32,229.04 L57.31,229.03 L58.31,229.01 L59.31,228.99 L60.3,228.97 L61.3,228.93 L62.29,228.89 L63.29,228.84 L64.29,228.77 L65.28,228.67 L66.28,228.54 L67.27,228.37 L68.27,228.15 L69.27,227.88 L70.26,227.53 L71.26,227.1 L72.26,226.58 L73.25,225.96 L74.25,225.24 L75.24,224.43 L76.24,223.53 L77.24,222.55 L78.23,221.53 L79.23,220.48 L80.22,219.45 L81.22,218.48 L82.22,217.61 L83.21,216.89 L84.21,216.36 L85.2,216.06 L86.2,216.01 L87.2,216.21 L88.19,216.65 L89.19,217.3 L90.19,218.12 L91.18,219.05 L92.18,220.07 L93.17,221.11 L94.17,222.15 L95.17,223.15 L96.16,224.08 L97.16,224.93 L98.15,225.69 L99.15,226.34 L100.15,226.9 L101.14,227.37 L102.14,227.75 L103.13,228.05 L104.13,228.29 L105.13,228.48 L106.12,228.62 L107.12,228.73 L108.12,228.81 L109.11,228.87 L110.11,228.92 L111.1,228.95 L112.1,228.98 L113.1,229 L114.09,229.02 L115.09,229.03 L116.08,229.04 L117.08,229.06 L118.08,229.06 L119.07,229.07 L120.07,229.08 L121.06,229.09 L122.06,229.09 L123.06,229.1 L124.05,229.1 L125.05,229.11 L126.05,229.11 L127.04,229.12 L128.04,229.12 L129.03,229.12 L130.03,229.13 L131.03,229.13 L132.02,229.13 L133.02,229.13 L134.01,229.14 L135.01,229.14 L136.01,229.14 L137,229.14 L138,229.15 L138.99,229.15 L139.99,229.15 L140.99,229.15 L141.98,229.15 L142.98,229.15 L143.97,229.16 L144.97,229.16 L145.97,229.16 L146.96,229.16 L147.96,229.16 L148.96,229.16 L149.95,229.16 L150.95,229.17 L151.94,229.17 L152.94,229.17 L153.94,229.17 L154.93,229.17 L155.93,229.17 L156.92,229.17 L157.92,229.17 L158.92,229.17 L159.91,229.17 L160.91,229.17 L161.91,229.17 L162.9,229.17 L163.9,229.18 L164.89,229.18 L165.89,229.18 L166.89,229.18 L167.88,229.18 L168.88,229.18 L169.87,229.18 L170.87,229.18 L171.87,229.18 L172.86,229.18 L173.86,229.18 L174.85,229.18 L175.85,229.18 L176.85,229.18 L177.84,229.18 L178.84,229.18 L179.84,229.18 L180.83,229.18 L181.83,229.18 L182.82,229.18 L183.82,229.18 L184.82,229.18 L185.81,229.19 L186.81,229.19 L187.8,229.19 L188.8,229.19" fill="none" stroke="#1d58b6" stroke-width="2.0" stroke-linejoin="round" stroke-linecap="round" />
<text x="13.7" y="227" font-family='"Liberation Serif", serif' font-size="14" text-anchor="start" font-weight="normal" fill="#111" stroke="#111" stroke-width="0.35" >CaG-E</text>
<path d="M66.28,275.01 L67.27,275 L68.27,275 L69.27,275 L70.26,274.99 L71.26,274.99 L72.26,274.99 L73.25,274.98 L74.25,274.98 L75.24,274.98 L76.24,274.97 L77.24,274.97 L78.23,274.96 L79.23,274.96 L80.22,274.95 L81.22,274.95 L82.22,274.94 L83.21,274.93 L84.21,274.93 L85.2,274.92 L86.2,274.91 L87.2,274.9 L88.19,274.89 L89.19,274.88 L90.19,274.87 L91.18,274.86 L92.18,274.85 L93.17,274.84 L94.17,274.82 L95.17,274.8 L96.16,274.78 L97.16,274.75 L98.15,274.72 L99.15,274.68 L100.15,274.63 L101.14,274.57 L102.14,274.49 L103.13,274.38 L104.13,274.25 L105.13,274.07 L106.12,273.85 L107.12,273.57 L108.12,273.21 L109.11,272.76 L110.11,272.21 L111.1,271.53 L112.1,270.72 L113.1,269.75 L114.09,268.61 L115.09,267.29 L116.08,265.79 L117.08,264.11 L118.08,262.24 L119.07,260.22 L120.07,258.05 L121.06,255.79 L122.06,253.46 L123.06,251.12 L124.05,248.83 L125.05,246.65 L126.05,244.64 L127.04,242.89 L128.04,241.45 L129.03,240.37 L130.03,239.72 L131.03,239.5 L132.02,239.74 L133.02,240.42 L134.01,241.51 L135.01,242.97 L136.01,244.74 L137,246.75 L138,248.94 L138.99,251.24 L139.99,253.58 L140.99,255.9 L141.98,258.17 L142.98,260.32 L143.97,262.34 L144.97,264.2 L145.97,265.87 L146.96,267.37 L147.96,268.67 L148.96,269.8 L149.95,270.76 L150.95,271.57 L151.94,272.24 L152.94,272.79 L153.94,273.23 L154.93,273.58 L155.93,273.86 L156.92,274.08 L157.92,274.26 L158.92,274.39 L159.91,274.49 L160.91,274.57 L161.91,274.64" fill="none" stroke="#d43a44" stroke-width="2.0" stroke-linejoin="round" stroke-linecap="round" />
<path d="M9.5,275.06 L10.5,275.06 L11.49,275.06 L12.49,275.06 L13.48,275.06 L14.48,275.06 L15.48,275.06 L16.47,275.06 L17.47,275.06 L18.46,275.06 L19.46,275.05 L20.46,275.05 L21.45,275.05 L22.45,275.05 L23.45,275.05 L24.44,275.05 L25.44,275.05 L26.43,275.04 L27.43,275.04 L28.43,275.04 L29.42,275.04 L30.42,275.04 L31.41,275.03 L32.41,275.03 L33.41,275.03 L34.4,275.03 L35.4,275.02 L36.4,275.02 L37.39,275.02 L38.39,275.02 L39.38,275.01 L40.38,275.01 L41.38,275.01 L42.37,275 L43.37,275 L44.36,274.99 L45.36,274.99 L46.36,274.99 L47.35,274.98 L48.35,274.97 L49.34,274.97 L50.34,274.96 L51.34,274.96 L52.33,274.95 L53.33,274.94 L54.33,274.93 L55.32,274.92 L56.32,274.91 L57.31,274.9 L58.31,274.89 L59.31,274.88 L60.3,274.86 L61.3,274.84 L62.29,274.81 L63.29,274.78 L64.29,274.74 L65.28,274.69 L66.28,274.62 L67.27,274.54 L68.27,274.43 L69.27,274.28 L70.26,274.1 L71.26,273.86 L72.26,273.56 L73.25,273.19 L74.25,272.74 L75.24,272.2 L76.24,271.55 L77.24,270.79 L78.23,269.93 L79.23,268.95 L80.22,267.88 L81.22,266.72 L82.22,265.49 L83.21,264.22 L84.21,262.95 L85.2,261.71 L86.2,260.55 L87.2,259.52 L88.19,258.66 L89.19,258.01 L90.19,257.62 L91.18,257.5 L92.18,257.66 L93.17,258.1 L94.17,258.78 L95.17,259.68 L96.16,260.73 L97.16,261.91 L98.15,263.15 L99.15,264.43 L100.15,265.69 L101.14,266.91 L102.14,268.06 L103.13,269.12 L104.13,270.08 L105.13,270.93 L106.12,271.66 L107.12,272.29 L108.12,272.82 L109.11,273.26 L110.11,273.62 L111.1,273.9 L112.1,274.13 L113.1,274.31 L114.09,274.45 L115.09,274.55 L116.08,274.64 L117.08,274.7 L118.08,274.75 L119.07,274.79 L120.07,274.82 L121.06,274.84 L122.06,274.86 L123.06,274.88 L124.05,274.89 L125.05,274.9 L126.05,274.92 L127.04,274.93 L128.04,274.93 L129.03,274.94 L130.03,274.95 L131.03,274.96 L132.02,274.96 L133.02,274.97 L134.01,274.98 L135.01,274.98 L136.01,274.99 L137,274.99 L138,275 L138.99,275 L139.99,275 L140.99,275.01 L141.98,275.01 L142.98,275.01 L143.97,275.02 L144.97,275.02 L145.97,275.02 L146.96,275.03 L147.96,275.03 L148.96,275.03 L149.95,275.03 L150.95,275.03 L151.94,275.04 L152.94,275.04 L153.94,275.04 L154.93,275.04 L155.93,275.04 L156.92,275.05 L157.92,275.05 L158.92,275.05 L159.91,275.05 L160.91,275.05 L161.91,275.05 L162.9,275.05 L163.9,275.06 L164.89,275.06 L165.89,275.06 L166.89,275.06 L167.88,275.06 L168.88,275.06 L169.87,275.06 L170.87,275.06 L171.87,275.06 L172.86,275.06 L173.86,275.07 L174.85,275.07 L175.85,275.07 L176.85,275.07 L177.84,275.07 L178.84,275.07 L179.84,275.07 L180.83,275.07 L181.83,275.07 L182.82,275.07 L183.82,275.07 L184.82,275.07 L185.81,275.07 L186.81,275.07 L187.8,275.07 L188.8,275.08" fill="none" stroke="#1d58b6" stroke-width="2.0" stroke-linejoin="round" stroke-linecap="round" />
<text x="16.2" y="273.85" font-family='"Liberation Serif", serif' font-size="14" text-anchor="start" font-weight="normal" fill="#111" stroke="#111" stroke-width="0.35" >CaG</text>
<path d="M28.43,326.35 L29.42,326.35 L30.42,326.35 L31.41,326.35 L32.41,326.35 L33.41,326.35 L34.4,326.34 L35.4,326.34 L36.4,326.34 L37.39,326.34 L38.39,326.34 L39.38,326.34 L40.38,326.34 L41.38,326.33 L42.37,326.33 L43.37,326.33 L44.36,326.33 L45.36,326.33 L46.36,326.33 L47.35,326.32 L48.35,326.32" fill="none" stroke="#d43a44" stroke-width="2.0" stroke-linejoin="round" stroke-linecap="round" />
<path d="M63.29,326.28 L64.29,326.28 L65.28,326.28 L66.28,326.27 L67.27,326.27 L68.27,326.26 L69.27,326.26 L70.26,326.26 L71.26,326.25 L72.26,326.24 L73.25,326.24 L74.25,326.23 L75.24,326.23 L76.24,326.22 L77.24,326.21 L78.23,326.21 L79.23,326.2 L80.22,326.19 L81.22,326.18 L82.22,326.17 L83.21,326.16 L84.21,326.15 L85.2,326.14 L86.2,326.13 L87.2,326.12 L88.19,326.1 L89.19,326.09 L90.19,326.07 L91.18,326.05 L92.18,326.02 L93.17,325.99 L94.17,325.96 L95.17,325.92 L96.16,325.86 L97.16,325.8 L98.15,325.71 L99.15,325.6 L100.15,325.45 L101.14,325.27 L102.14,325.03 L103.13,324.72 L104.13,324.34 L105.13,323.85 L106.12,323.25 L107.12,322.51 L108.12,321.61 L109.11,320.52 L110.11,319.25 L111.1,317.75 L112.1,316.04 L113.1,314.09 L114.09,311.92 L115.09,309.53 L116.08,306.96 L117.08,304.24 L118.08,301.4 L119.07,298.52 L120.07,295.65 L121.06,292.87 L122.06,290.26 L123.06,287.91 L124.05,285.9 L125.05,284.3 L126.05,283.18 L127.04,282.59 L128.04,282.55 L129.03,283.08 L130.03,284.13 L131.03,285.68 L132.02,287.64 L133.02,289.96 L134.01,292.54 L135.01,295.3 L136.01,298.16 L137,301.05 L138,303.89 L138.99,306.64 L139.99,309.23 L140.99,311.64 L141.98,313.84 L142.98,315.81 L143.97,317.56 L144.97,319.08 L145.97,320.38 L146.96,321.48 L147.96,322.41 L148.96,323.17 L149.95,323.79 L150.95,324.28 L151.94,324.68 L152.94,325 L153.94,325.24 L154.93,325.43 L155.93,325.58 L156.92,325.7 L157.92,325.79 L158.92,325.86 L159.91,325.91" fill="none" stroke="#d43a44" stroke-width="2.0" stroke-linejoin="round" stroke-linecap="round" />
<path d="M9.5,326.36 L10.5,326.36 L11.49,326.36 L12.49,326.35 L13.48,326.35 L14.48,326.35 L15.48,326.35 L16.47,326.35 L17.47,326.34 L18.46,326.34 L19.46,326.33 L20.46,326.32 L21.45,326.31 L22.45,326.29 L23.45,326.27 L24.44,326.23 L25.44,326.19 L26.43,326.13 L27.43,326.05 L28.43,325.96 L29.42,325.86 L30.42,325.74 L31.41,325.61 L32.41,325.47 L33.41,325.34 L34.4,325.22 L35.4,325.12 L36.4,325.05 L37.39,325.01 L38.39,325 L39.38,325.03 L40.38,325.09 L41.38,325.17 L42.37,325.28 L43.37,325.4 L44.36,325.53 L45.36,325.65 L46.36,325.76 L47.35,325.86 L48.35,325.95 L49.34,326.02 L50.34,326.07 L51.34,326.11 L52.33,326.13 L53.33,326.15 L54.33,326.15 L55.32,326.15 L56.32,326.14 L57.31,326.13 L58.31,326.12 L59.31,326.09 L60.3,326.07 L61.3,326.03 L62.29,325.99 L63.29,325.93 L64.29,325.86 L65.28,325.76 L66.28,325.63 L67.27,325.46 L68.27,325.25 L69.27,324.97 L70.26,324.61 L71.26,324.16 L72.26,323.61 L73.25,322.93 L74.25,322.12 L75.24,321.17 L76.24,320.08 L77.24,318.84 L78.23,317.47 L79.23,315.99 L80.22,314.43 L81.22,312.82 L82.22,311.22 L83.21,309.68 L84.21,308.26 L85.2,307.03 L86.2,306.05 L87.2,305.37 L88.19,305.03 L89.19,305.06 L90.19,305.46 L91.18,306.2 L92.18,307.24 L93.17,308.51 L94.17,309.96 L95.17,311.51 L96.16,313.12 L97.16,314.72 L98.15,316.27 L99.15,317.73 L100.15,319.07 L101.14,320.29 L102.14,321.36 L103.13,322.28 L104.13,323.06 L105.13,323.72 L106.12,324.25 L107.12,324.68 L108.12,325.02 L109.11,325.29 L110.11,325.5 L111.1,325.66 L112.1,325.78 L113.1,325.87 L114.09,325.94 L115.09,326 L116.08,326.04 L117.08,326.07 L118.08,326.1 L119.07,326.12 L120.07,326.14 L121.06,326.16 L122.06,326.17 L123.06,326.19 L124.05,326.2 L125.05,326.21 L126.05,326.22 L127.04,326.23 L128.04,326.23 L129.03,326.24 L130.03,326.25 L131.03,326.26 L132.02,326.26 L133.02,326.27 L134.01,326.27 L135.01,326.28 L136.01,326.28 L137,326.29 L138,326.29 L138.99,326.3 L139.99,326.3 L140.99,326.3 L141.98,326.31 L142.98,326.31 L143.97,326.31 L144.97,326.32 L145.97,326.32 L146.96,326.32 L147.96,326.32 L148.96,326.33 L149.95,326.33 L150.95,326.33 L151.94,326.33 L152.94,326.34 L153.94,326.34 L154.93,326.34 L155.93,326.34 L156.92,326.34 L157.92,326.34 L158.92,326.35 L159.91,326.35 L160.91,326.35 L161.91,326.35 L162.9,326.35 L163.9,326.35 L164.89,326.35 L165.89,326.36 L166.89,326.36 L167.88,326.36 L168.88,326.36 L169.87,326.36 L170.87,326.36 L171.87,326.36 L172.86,326.36 L173.86,326.36 L174.85,326.36 L175.85,326.36 L176.85,326.37 L177.84,326.37 L178.84,326.37 L179.84,326.37 L180.83,326.37 L181.83,326.37 L182.82,326.37 L183.82,326.37 L184.82,326.37 L185.81,326.37 L186.81,326.37 L187.8,326.37 L188.8,326.37" fill="none" stroke="#1d58b6" stroke-width="2.0" stroke-linejoin="round" stroke-linecap="round" />
<text x="14.2" y="321" font-family='"Liberation Serif", serif' font-size="12.5" text-anchor="start" font-weight="normal" fill="#111" stroke="#111" stroke-width="0.35" >Fresh CaO</text>
<line x1="26.77" y1="330" x2="26.77" y2="332" stroke="#555" stroke-width="0.7"/>
<line x1="43.54" y1="330" x2="43.54" y2="333" stroke="#555" stroke-width="0.7"/>
<line x1="60.31" y1="330" x2="60.31" y2="332" stroke="#555" stroke-width="0.7"/>
<line x1="77.08" y1="330" x2="77.08" y2="333" stroke="#555" stroke-width="0.7"/>
<line x1="93.85" y1="330" x2="93.85" y2="332" stroke="#555" stroke-width="0.7"/>
<line x1="110.62" y1="330" x2="110.62" y2="333" stroke="#555" stroke-width="0.7"/>
<line x1="127.39" y1="330" x2="127.39" y2="332" stroke="#555" stroke-width="0.7"/>
<line x1="144.16" y1="330" x2="144.16" y2="333" stroke="#555" stroke-width="0.7"/>
<line x1="160.93" y1="330" x2="160.93" y2="332" stroke="#555" stroke-width="0.7"/>
<line x1="177.7" y1="330" x2="177.7" y2="333" stroke="#555" stroke-width="0.7"/>
<text x="177.7" y="340.7" font-family='"Liberation Sans", sans-serif' font-size="7.2" text-anchor="middle" font-weight="bold" fill="#2a2a2a" stroke="#2a2a2a" stroke-width="0.15" textLength="9.6" lengthAdjust="spacingAndGlyphs">342</text>
<text x="144.16" y="340.7" font-family='"Liberation Sans", sans-serif' font-size="7.2" text-anchor="middle" font-weight="bold" fill="#2a2a2a" stroke="#2a2a2a" stroke-width="0.15" textLength="9.6" lengthAdjust="spacingAndGlyphs">345</text>
<text x="110.62" y="340.7" font-family='"Liberation Sans", sans-serif' font-size="7.2" text-anchor="middle" font-weight="bold" fill="#2a2a2a" stroke="#2a2a2a" stroke-width="0.15" textLength="9.6" lengthAdjust="spacingAndGlyphs">348</text>
<text x="77.08" y="340.7" font-family='"Liberation Sans", sans-serif' font-size="7.2" text-anchor="middle" font-weight="bold" fill="#2a2a2a" stroke="#2a2a2a" stroke-width="0.15" textLength="9.6" lengthAdjust="spacingAndGlyphs">351</text>
<text x="43.54" y="340.7" font-family='"Liberation Sans", sans-serif' font-size="7.2" text-anchor="middle" font-weight="bold" fill="#2a2a2a" stroke="#2a2a2a" stroke-width="0.15" textLength="9.6" lengthAdjust="spacingAndGlyphs">354</text>
<text x="10" y="340.7" font-family='"Liberation Sans", sans-serif' font-size="7.2" text-anchor="middle" font-weight="bold" fill="#2a2a2a" stroke="#2a2a2a" stroke-width="0.15" textLength="9.6" lengthAdjust="spacingAndGlyphs">357</text>
<text x="100" y="348" font-family='"Liberation Serif", serif' font-size="7.6" text-anchor="middle" font-weight="normal" fill="#1a1a1a" stroke="#1a1a1a" stroke-width="0.15" >Binding energy (eV)</text>
<text x="0" y="0" font-family='"Liberation Serif", serif' font-size="7.6" text-anchor="middle" font-weight="normal" fill="#444" stroke="#444" stroke-width="0.05" transform="translate(5.6,258.5) rotate(-90)">Intensity (a.u.)</text>
<text x="0" y="0" font-family='"Liberation Sans", sans-serif' font-size="7" text-anchor="middle" font-weight="normal" fill="#222" stroke="#222" stroke-width="0.15" transform="translate(200.3,261.3) rotate(-90)">Intensity (a.u.)</text>
<line x1="203.8" y1="186.6" x2="382.7" y2="186.6" stroke="#666" stroke-width="1.0"/>
<line x1="382.7" y1="186.6" x2="382.7" y2="330" stroke="#666" stroke-width="1.0"/>
<line x1="203.8" y1="186.6" x2="203.8" y2="330" stroke="#666" stroke-width="1.0"/>
<line x1="203.8" y1="330" x2="382.7" y2="330" stroke="#555" stroke-width="1.0"/>
<line x1="203.8" y1="244.1" x2="382.7" y2="244.1" stroke="#6a6058" stroke-width="1.0"/>
<line x1="203.8" y1="283.3" x2="382.7" y2="283.3" stroke="#6a6058" stroke-width="1.0"/>
<rect x="203.8" y="186.9" width="31.2" height="26.3" fill="#fff" stroke="#333" stroke-width="1.3"/>
<text x="219.8" y="205.4" font-family='"Liberation Sans", sans-serif' font-size="12.5" text-anchor="middle" font-weight="bold" fill="#111" stroke="#111" stroke-width="0.15" >D</text>
<text x="283" y="214.9" font-family='"Liberation Serif", serif' font-size="12" text-anchor="start" font-weight="normal" fill="#111" stroke="#111" stroke-width="0.35" >O 1s</text>
<text x="334.3" y="210.6" font-family='"Liberation Serif", serif' font-size="6.8" text-anchor="start" font-weight="bold" fill="#1a1a1a" stroke="#1a1a1a" stroke-width="0.1" >O<tspan font-size='6' dy='-0.5' font-weight='normal'>&#8242;</tspan></text>
<text x="313.9" y="224.8" font-family='"Liberation Serif", serif' font-size="6.8" text-anchor="start" font-weight="bold" fill="#1a1a1a" stroke="#1a1a1a" stroke-width="0.1" >OH<tspan font-size='6' dy='-0.5' font-weight='normal'>&#8242;</tspan></text>
<path d="M294.75,240.01 L295.75,239.93 L296.75,239.84 L297.75,239.72 L298.75,239.57 L299.75,239.39 L300.75,239.17 L301.75,238.9 L302.74,238.58 L303.74,238.21 L304.74,237.79 L305.74,237.3 L306.74,236.76 L307.74,236.16 L308.74,235.51 L309.74,234.81 L310.74,234.07 L311.74,233.31 L312.74,232.53 L313.74,231.74 L314.74,230.94 L315.74,230.15 L316.74,229.36 L317.74,228.58 L318.74,227.81 L319.74,227.03 L320.73,226.24 L321.73,225.43 L322.73,224.58 L323.73,223.69 L324.73,222.75 L325.73,221.75 L326.73,220.69 L327.73,219.59 L328.73,218.45 L329.73,217.31 L330.73,216.19 L331.73,215.12 L332.73,214.17 L333.73,213.36 L334.73,212.76 L335.73,212.41 L336.73,212.34 L337.73,212.56 L338.72,213.1 L339.72,213.92 L340.72,215.01 L341.72,216.33 L342.72,217.82 L343.72,219.45 L344.72,221.16 L345.72,222.9 L346.72,224.65 L347.72,226.35 L348.72,227.99 L349.72,229.53 L350.72,230.97 L351.72,232.28 L352.72,233.47 L353.72,234.52 L354.72,235.44 L355.72,236.24 L356.71,236.92 L357.71,237.5 L358.71,237.99 L359.71,238.39 L360.71,238.72 L361.71,238.99 L362.71,239.2 L363.71,239.38 L364.71,239.52 L365.71,239.63 L366.71,239.73 L367.71,239.8 L368.71,239.86 L369.71,239.91 L370.71,239.96 L371.71,239.99 L372.71,240.02" fill="none" stroke="#2a2a2a" stroke-width="1.3" stroke-linejoin="round" stroke-linecap="round" />
<path d="M297.75,240.12 L298.75,240.1 L299.75,240.07 L300.75,240.05 L301.75,240.02 L302.74,239.99 L303.74,239.95 L304.74,239.91 L305.74,239.86 L306.74,239.8 L307.74,239.72 L308.74,239.63 L309.74,239.51 L310.74,239.37 L311.74,239.19 L312.74,238.97 L313.74,238.7 L314.74,238.37 L315.74,237.96 L316.74,237.48 L317.74,236.89 L318.74,236.2 L319.74,235.4 L320.73,234.47 L321.73,233.41 L322.73,232.23 L323.73,230.91 L324.73,229.47 L325.73,227.93 L326.73,226.3 L327.73,224.6 L328.73,222.88 L329.73,221.16 L330.73,219.5 L331.73,217.93 L332.73,216.52 L333.73,215.3 L334.73,214.34 L335.73,213.68 L336.73,213.34 L337.73,213.35 L338.72,213.7 L339.72,214.38 L340.72,215.36 L341.72,216.58 L342.72,218.01 L343.72,219.58 L344.72,221.25 L345.72,222.97 L346.72,224.69 L347.72,226.38 L348.72,228.01 L349.72,229.55 L350.72,230.98 L351.72,232.29 L352.72,233.47 L353.72,234.52 L354.72,235.44 L355.72,236.24 L356.71,236.92 L357.71,237.5 L358.71,237.99 L359.71,238.39 L360.71,238.72 L361.71,238.99 L362.71,239.2 L363.71,239.38 L364.71,239.52 L365.71,239.63 L366.71,239.73 L367.71,239.8 L368.71,239.86 L369.71,239.91 L370.71,239.96 L371.71,239.99 L372.71,240.02" fill="none" stroke="#d43a44" stroke-width="2.0" stroke-linejoin="round" stroke-linecap="round" />
<path d="M203.8,240.5 L204.8,240.5 L205.8,240.5 L206.8,240.5 L207.8,240.5 L208.8,240.5 L209.8,240.5 L210.8,240.5 L211.8,240.5 L212.79,240.5 L213.79,240.5 L214.79,240.5 L215.79,240.5 L216.79,240.5 L217.79,240.5 L218.79,240.5 L219.79,240.5 L220.79,240.5 L221.79,240.5 L222.79,240.5 L223.79,240.5 L224.79,240.5 L225.79,240.5 L226.79,240.5 L227.79,240.5 L228.79,240.5 L229.79,240.5 L230.78,240.5 L231.78,240.5 L232.78,240.5 L233.78,240.5 L234.78,240.5 L235.78,240.5 L236.78,240.5 L237.78,240.5 L238.78,240.5 L239.78,240.5 L240.78,240.5 L241.78,240.5 L242.78,240.5 L243.78,240.5 L244.78,240.5 L245.78,240.5 L246.78,240.5 L247.78,240.5 L248.77,240.5 L249.77,240.5 L250.77,240.5 L251.77,240.5 L252.77,240.5 L253.77,240.5 L254.77,240.5 L255.77,240.5 L256.77,240.5 L257.77,240.5 L258.77,240.5 L259.77,240.5 L260.77,240.5 L261.77,240.5 L262.77,240.5 L263.77,240.5 L264.77,240.5 L265.77,240.5 L266.76,240.5 L267.76,240.5 L268.76,240.5 L269.76,240.5 L270.76,240.5 L271.76,240.5 L272.76,240.5 L273.76,240.5 L274.76,240.5 L275.76,240.5 L276.76,240.5 L277.76,240.5 L278.76,240.5 L279.76,240.5 L280.76,240.5 L281.76,240.5 L282.76,240.5 L283.76,240.5 L284.75,240.5 L285.75,240.5 L286.75,240.49 L287.75,240.49 L288.75,240.48 L289.75,240.47 L290.75,240.46 L291.75,240.44 L292.75,240.42 L293.75,240.39 L294.75,240.34 L295.75,240.28 L296.75,240.2 L297.75,240.1 L298.75,239.98 L299.75,239.81 L300.75,239.62 L301.75,239.38 L302.74,239.09 L303.74,238.76 L304.74,238.37 L305.74,237.94 L306.74,237.46 L307.74,236.93 L308.74,236.38 L309.74,235.79 L310.74,235.2 L311.74,234.62 L312.74,234.06 L313.74,233.53 L314.74,233.07 L315.74,232.68 L316.74,232.39 L317.74,232.19 L318.74,232.1 L319.74,232.13 L320.73,232.27 L321.73,232.51 L322.73,232.86 L323.73,233.28 L324.73,233.77 L325.73,234.32 L326.73,234.89 L327.73,235.48 L328.73,236.07 L329.73,236.64 L330.73,237.19 L331.73,237.69 L332.73,238.15 L333.73,238.56 L334.73,238.92 L335.73,239.23 L336.73,239.5 L337.73,239.72 L338.72,239.89 L339.72,240.04 L340.72,240.15 L341.72,240.24 L342.72,240.31 L343.72,240.37 L344.72,240.4 L345.72,240.43 L346.72,240.45 L347.72,240.47 L348.72,240.48 L349.72,240.49 L350.72,240.49 L351.72,240.49 L352.72,240.5 L353.72,240.5 L354.72,240.5 L355.72,240.5 L356.71,240.5 L357.71,240.5 L358.71,240.5 L359.71,240.5 L360.71,240.5 L361.71,240.5 L362.71,240.5 L363.71,240.5 L364.71,240.5 L365.71,240.5 L366.71,240.5 L367.71,240.5 L368.71,240.5 L369.71,240.5 L370.71,240.5 L371.71,240.5 L372.71,240.5 L373.71,240.5 L374.7,240.5 L375.7,240.5 L376.7,240.5 L377.7,240.5 L378.7,240.5 L379.7,240.5 L380.7,240.5 L381.7,240.5 L382.7,240.5" fill="none" stroke="#1d58b6" stroke-width="2.0" stroke-linejoin="round" stroke-linecap="round" />
<text x="210.2" y="238.3" font-family='"Liberation Serif", serif' font-size="14" text-anchor="start" font-weight="normal" fill="#111" stroke="#111" stroke-width="0.35" >CaG-E</text>
<path d="M298.75,278.69 L299.75,278.6 L300.75,278.48 L301.75,278.33 L302.74,278.15 L303.74,277.93 L304.74,277.65 L305.74,277.33 L306.74,276.94 L307.74,276.48 L308.74,275.96 L309.74,275.36 L310.74,274.68 L311.74,273.94 L312.74,273.12 L313.74,272.23 L314.74,271.29 L315.74,270.3 L316.74,269.27 L317.74,268.23 L318.74,267.17 L319.74,266.12 L320.73,265.08 L321.73,264.07 L322.73,263.08 L323.73,262.14 L324.73,261.23 L325.73,260.36 L326.73,259.51 L327.73,258.69 L328.73,257.89 L329.73,257.09 L330.73,256.29 L331.73,255.49 L332.73,254.69 L333.73,253.89 L334.73,253.1 L335.73,252.34 L336.73,251.64 L337.73,251.01 L338.72,250.48 L339.72,250.09 L340.72,249.87 L341.72,249.84 L342.72,250.02 L343.72,250.43 L344.72,251.06 L345.72,251.93 L346.72,253 L347.72,254.25 L348.72,255.66 L349.72,257.2 L350.72,258.81 L351.72,260.49 L352.72,262.18 L353.72,263.85 L354.72,265.48 L355.72,267.05 L356.71,268.53 L357.71,269.91 L358.71,271.18 L359.71,272.33 L360.71,273.35 L361.71,274.26 L362.71,275.05 L363.71,275.73 L364.71,276.31 L365.71,276.8 L366.71,277.21 L367.71,277.54 L368.71,277.82 L369.71,278.04 L370.71,278.22 L371.71,278.37 L372.71,278.48 L373.71,278.57 L374.7,278.64" fill="none" stroke="#2a2a2a" stroke-width="1.3" stroke-linejoin="round" stroke-linecap="round" />
<path d="M300.75,278.91 L301.75,278.9 L302.74,278.89 L303.74,278.88 L304.74,278.87 L305.74,278.85 L306.74,278.83 L307.74,278.81 L308.74,278.78 L309.74,278.74 L310.74,278.7 L311.74,278.64 L312.74,278.57 L313.74,278.48 L314.74,278.36 L315.74,278.22 L316.74,278.03 L317.74,277.81 L318.74,277.53 L319.74,277.19 L320.73,276.78 L321.73,276.29 L322.73,275.7 L323.73,275.02 L324.73,274.23 L325.73,273.32 L326.73,272.29 L327.73,271.14 L328.73,269.88 L329.73,268.51 L330.73,267.04 L331.73,265.49 L332.73,263.89 L333.73,262.26 L334.73,260.62 L335.73,259.03 L336.73,257.51 L337.73,256.11 L338.72,254.86 L339.72,253.81 L340.72,252.98 L341.72,252.42 L342.72,252.13 L343.72,252.14 L344.72,252.44 L345.72,253.01 L346.72,253.85 L347.72,254.91 L348.72,256.17 L349.72,257.58 L350.72,259.1 L351.72,260.7 L352.72,262.33 L353.72,263.96 L354.72,265.56 L355.72,267.11 L356.71,268.57 L357.71,269.94 L358.71,271.2 L359.71,272.34 L360.71,273.36 L361.71,274.26 L362.71,275.05 L363.71,275.73 L364.71,276.31 L365.71,276.8 L366.71,277.21 L367.71,277.54 L368.71,277.82 L369.71,278.04 L370.71,278.22 L371.71,278.37 L372.71,278.48 L373.71,278.57 L374.7,278.64" fill="none" stroke="#d43a44" stroke-width="2.0" stroke-linejoin="round" stroke-linecap="round" />
<path d="M203.8,279.1 L204.8,279.1 L205.8,279.1 L206.8,279.1 L207.8,279.1 L208.8,279.1 L209.8,279.1 L210.8,279.1 L211.8,279.1 L212.79,279.1 L213.79,279.1 L214.79,279.1 L215.79,279.1 L216.79,279.1 L217.79,279.1 L218.79,279.1 L219.79,279.1 L220.79,279.1 L221.79,279.1 L222.79,279.1 L223.79,279.1 L224.79,279.1 L225.79,279.1 L226.79,279.1 L227.79,279.1 L228.79,279.1 L229.79,279.1 L230.78,279.1 L231.78,279.1 L232.78,279.1 L233.78,279.1 L234.78,279.1 L235.78,279.1 L236.78,279.1 L237.78,279.1 L238.78,279.1 L239.78,279.1 L240.78,279.1 L241.78,279.1 L242.78,279.1 L243.78,279.1 L244.78,279.1 L245.78,279.1 L246.78,279.1 L247.78,279.1 L248.77,279.1 L249.77,279.1 L250.77,279.1 L251.77,279.1 L252.77,279.1 L253.77,279.1 L254.77,279.1 L255.77,279.1 L256.77,279.1 L257.77,279.1 L258.77,279.1 L259.77,279.1 L260.77,279.1 L261.77,279.1 L262.77,279.1 L263.77,279.1 L264.77,279.1 L265.77,279.1 L266.76,279.1 L267.76,279.1 L268.76,279.1 L269.76,279.1 L270.76,279.1 L271.76,279.1 L272.76,279.1 L273.76,279.1 L274.76,279.1 L275.76,279.1 L276.76,279.1 L277.76,279.1 L278.76,279.1 L279.76,279.1 L280.76,279.1 L281.76,279.1 L282.76,279.1 L283.76,279.1 L284.75,279.1 L285.75,279.1 L286.75,279.1 L287.75,279.1 L288.75,279.09 L289.75,279.09 L290.75,279.09 L291.75,279.08 L292.75,279.07 L293.75,279.05 L294.75,279.03 L295.75,279.01 L296.75,278.97 L297.75,278.92 L298.75,278.86 L299.75,278.77 L300.75,278.67 L301.75,278.53 L302.74,278.36 L303.74,278.15 L304.74,277.89 L305.74,277.58 L306.74,277.21 L307.74,276.78 L308.74,276.28 L309.74,275.72 L310.74,275.09 L311.74,274.4 L312.74,273.65 L313.74,272.85 L314.74,272.03 L315.74,271.18 L316.74,270.34 L317.74,269.52 L318.74,268.74 L319.74,268.02 L320.73,267.4 L321.73,266.88 L322.73,266.48 L323.73,266.22 L324.73,266.11 L325.73,266.14 L326.73,266.32 L327.73,266.65 L328.73,267.1 L329.73,267.68 L330.73,268.35 L331.73,269.09 L332.73,269.9 L333.73,270.73 L334.73,271.58 L335.73,272.42 L336.73,273.23 L337.73,274 L338.72,274.72 L339.72,275.39 L340.72,275.99 L341.72,276.52 L342.72,276.98 L343.72,277.39 L344.72,277.73 L345.72,278.01 L346.72,278.25 L347.72,278.44 L348.72,278.6 L349.72,278.72 L350.72,278.82 L351.72,278.89 L352.72,278.95 L353.72,278.99 L354.72,279.02 L355.72,279.04 L356.71,279.06 L357.71,279.07 L358.71,279.08 L359.71,279.09 L360.71,279.09 L361.71,279.09 L362.71,279.1 L363.71,279.1 L364.71,279.1 L365.71,279.1 L366.71,279.1 L367.71,279.1 L368.71,279.1 L369.71,279.1 L370.71,279.1 L371.71,279.1 L372.71,279.1 L373.71,279.1 L374.7,279.1 L375.7,279.1 L376.7,279.1 L377.7,279.1 L378.7,279.1 L379.7,279.1 L380.7,279.1 L381.7,279.1 L382.7,279.1" fill="none" stroke="#1d58b6" stroke-width="2.0" stroke-linejoin="round" stroke-linecap="round" />
<text x="214.1" y="278.5" font-family='"Liberation Serif", serif' font-size="14" text-anchor="start" font-weight="normal" fill="#111" stroke="#111" stroke-width="0.35" >CaG</text>
<path d="M303.74,326.22 L304.74,326.18 L305.74,326.13 L306.74,326.07 L307.74,325.99 L308.74,325.89 L309.74,325.76 L310.74,325.59 L311.74,325.38 L312.74,325.12 L313.74,324.8 L314.74,324.41 L315.74,323.95 L316.74,323.41 L317.74,322.78 L318.74,322.06 L319.74,321.23 L320.73,320.29 L321.73,319.21 L322.73,318 L323.73,316.64 L324.73,315.12 L325.73,313.42 L326.73,311.56 L327.73,309.53 L328.73,307.36 L329.73,305.07 L330.73,302.7 L331.73,300.31 L332.73,297.95 L333.73,295.71 L334.73,293.65 L335.73,291.85 L336.73,290.4 L337.73,289.36 L338.72,288.79 L339.72,288.71 L340.72,289.13 L341.72,290.04 L342.72,291.39 L343.72,293.12 L344.72,295.15 L345.72,297.42 L346.72,299.84 L347.72,302.34 L348.72,304.85 L349.72,307.31 L350.72,309.68 L351.72,311.91 L352.72,313.98 L353.72,315.85 L354.72,317.53 L355.72,319.02 L356.71,320.3 L357.71,321.41 L358.71,322.34 L359.71,323.11 L360.71,323.75 L361.71,324.28 L362.71,324.7 L363.71,325.03 L364.71,325.3 L365.71,325.51 L366.71,325.68 L367.71,325.81 L368.71,325.91 L369.71,325.99 L370.71,326.06 L371.71,326.11 L372.71,326.16 L373.71,326.19 L374.7,326.23" fill="none" stroke="#2a2a2a" stroke-width="1.3" stroke-linejoin="round" stroke-linecap="round" />
<path d="M203.8,326.67 L204.8,326.67 L205.8,326.67 L206.8,326.66 L207.8,326.66 L208.8,326.66 L209.8,326.66 L210.8,326.66 L211.8,326.66 L212.79,326.66 L213.79,326.66 L214.79,326.66 L215.79,326.66 L216.79,326.66 L217.79,326.66 L218.79,326.66 L219.79,326.66 L220.79,326.66 L221.79,326.66 L222.79,326.65 L223.79,326.65 L224.79,326.65 L225.79,326.65 L226.79,326.65 L227.79,326.65 L228.79,326.65 L229.79,326.65 L230.78,326.65 L231.78,326.65 L232.78,326.65 L233.78,326.64 L234.78,326.64 L235.78,326.64 L236.78,326.64 L237.78,326.64 L238.78,326.64 L239.78,326.64 L240.78,326.64 L241.78,326.64 L242.78,326.63 L243.78,326.63 L244.78,326.63 L245.78,326.63 L246.78,326.63 L247.78,326.63 L248.77,326.62 L249.77,326.62 L250.77,326.62 L251.77,326.62 L252.77,326.62 L253.77,326.62 L254.77,326.61 L255.77,326.61 L256.77,326.61 L257.77,326.61 L258.77,326.61 L259.77,326.6 L260.77,326.6 L261.77,326.6 L262.77,326.6 L263.77,326.59 L264.77,326.59 L265.77,326.59 L266.76,326.58 L267.76,326.58 L268.76,326.58 L269.76,326.57 L270.76,326.57 L271.76,326.57 L272.76,326.56 L273.76,326.56 L274.76,326.55 L275.76,326.55 L276.76,326.54 L277.76,326.54 L278.76,326.53 L279.76,326.53 L280.76,326.52 L281.76,326.52 L282.76,326.51 L283.76,326.5 L284.75,326.5 L285.75,326.49 L286.75,326.48 L287.75,326.47 L288.75,326.47 L289.75,326.46 L290.75,326.45 L291.75,326.44 L292.75,326.43 L293.75,326.41 L294.75,326.4 L295.75,326.39 L296.75,326.38 L297.75,326.36 L298.75,326.34 L299.75,326.33 L300.75,326.31 L301.75,326.29 L302.74,326.26 L303.74,326.24 L304.74,326.21 L305.74,326.17 L306.74,326.13 L307.74,326.08 L308.74,326.02 L309.74,325.94 L310.74,325.85 L311.74,325.73 L312.74,325.57 L313.74,325.38 L314.74,325.13 L315.74,324.82 L316.74,324.43 L317.74,323.95 L318.74,323.35 L319.74,322.63 L320.73,321.75 L321.73,320.71 L322.73,319.49 L323.73,318.08 L324.73,316.47 L325.73,314.66 L326.73,312.66 L327.73,310.48 L328.73,308.16 L329.73,305.72 L330.73,303.22 L331.73,300.71 L332.73,298.26 L333.73,295.93 L334.73,293.8 L335.73,291.96 L336.73,290.47 L337.73,289.41 L338.72,288.82 L339.72,288.73 L340.72,289.14 L341.72,290.05 L342.72,291.39 L343.72,293.12 L344.72,295.16 L345.72,297.42 L346.72,299.84 L347.72,302.34 L348.72,304.85 L349.72,307.31 L350.72,309.68 L351.72,311.91 L352.72,313.98 L353.72,315.85 L354.72,317.53 L355.72,319.02 L356.71,320.3 L357.71,321.41 L358.71,322.34 L359.71,323.11 L360.71,323.75 L361.71,324.28 L362.71,324.7 L363.71,325.03 L364.71,325.3 L365.71,325.51 L366.71,325.68 L367.71,325.81 L368.71,325.91 L369.71,325.99 L370.71,326.06 L371.71,326.11 L372.71,326.16 L373.71,326.19 L374.7,326.23 L375.7,326.25 L376.7,326.28 L377.7,326.3 L378.7,326.32 L379.7,326.34 L380.7,326.35 L381.7,326.37 L382.7,326.38" fill="none" stroke="#d43a44" stroke-width="2.0" stroke-linejoin="round" stroke-linecap="round" />
<text x="211.4" y="323.6" font-family='"Liberation Serif", serif' font-size="12.5" text-anchor="start" font-weight="normal" fill="#111" stroke="#111" stroke-width="0.35" >Fresh CaO</text>
<line x1="382.6" y1="330" x2="382.6" y2="332" stroke="#555" stroke-width="0.7"/>
<line x1="371.44" y1="330" x2="371.44" y2="333" stroke="#555" stroke-width="0.7"/>
<line x1="360.28" y1="330" x2="360.28" y2="332" stroke="#555" stroke-width="0.7"/>
<line x1="349.12" y1="330" x2="349.12" y2="333" stroke="#555" stroke-width="0.7"/>
<line x1="337.96" y1="330" x2="337.96" y2="332" stroke="#555" stroke-width="0.7"/>
<line x1="326.8" y1="330" x2="326.8" y2="333" stroke="#555" stroke-width="0.7"/>
<line x1="315.64" y1="330" x2="315.64" y2="332" stroke="#555" stroke-width="0.7"/>
<line x1="304.48" y1="330" x2="304.48" y2="333" stroke="#555" stroke-width="0.7"/>
<line x1="293.32" y1="330" x2="293.32" y2="332" stroke="#555" stroke-width="0.7"/>
<line x1="282.16" y1="330" x2="282.16" y2="333" stroke="#555" stroke-width="0.7"/>
<line x1="271" y1="330" x2="271" y2="332" stroke="#555" stroke-width="0.7"/>
<line x1="259.84" y1="330" x2="259.84" y2="333" stroke="#555" stroke-width="0.7"/>
<line x1="248.68" y1="330" x2="248.68" y2="332" stroke="#555" stroke-width="0.7"/>
<line x1="237.52" y1="330" x2="237.52" y2="333" stroke="#555" stroke-width="0.7"/>
<line x1="226.36" y1="330" x2="226.36" y2="332" stroke="#555" stroke-width="0.7"/>
<line x1="215.2" y1="330" x2="215.2" y2="333" stroke="#555" stroke-width="0.7"/>
<line x1="204.04" y1="330" x2="204.04" y2="332" stroke="#555" stroke-width="0.7"/>
<text x="371.44" y="340.9" font-family='"Liberation Sans", sans-serif' font-size="7.2" text-anchor="middle" font-weight="bold" fill="#2a2a2a" stroke="#2a2a2a" stroke-width="0.15" textLength="8.9" lengthAdjust="spacingAndGlyphs">528</text>
<text x="349.12" y="340.9" font-family='"Liberation Sans", sans-serif' font-size="7.2" text-anchor="middle" font-weight="bold" fill="#2a2a2a" stroke="#2a2a2a" stroke-width="0.15" textLength="8.9" lengthAdjust="spacingAndGlyphs">530</text>
<text x="326.8" y="340.9" font-family='"Liberation Sans", sans-serif' font-size="7.2" text-anchor="middle" font-weight="bold" fill="#2a2a2a" stroke="#2a2a2a" stroke-width="0.15" textLength="8.9" lengthAdjust="spacingAndGlyphs">532</text>
<text x="304.48" y="340.9" font-family='"Liberation Sans", sans-serif' font-size="7.2" text-anchor="middle" font-weight="bold" fill="#2a2a2a" stroke="#2a2a2a" stroke-width="0.15" textLength="8.9" lengthAdjust="spacingAndGlyphs">534</text>
<text x="282.16" y="340.9" font-family='"Liberation Sans", sans-serif' font-size="7.2" text-anchor="middle" font-weight="bold" fill="#2a2a2a" stroke="#2a2a2a" stroke-width="0.15" textLength="8.9" lengthAdjust="spacingAndGlyphs">536</text>
<text x="259.84" y="340.9" font-family='"Liberation Sans", sans-serif' font-size="7.2" text-anchor="middle" font-weight="bold" fill="#2a2a2a" stroke="#2a2a2a" stroke-width="0.15" textLength="8.9" lengthAdjust="spacingAndGlyphs">538</text>
<text x="237.52" y="340.9" font-family='"Liberation Sans", sans-serif' font-size="7.2" text-anchor="middle" font-weight="bold" fill="#2a2a2a" stroke="#2a2a2a" stroke-width="0.15" textLength="8.9" lengthAdjust="spacingAndGlyphs">540</text>
<text x="215.2" y="340.9" font-family='"Liberation Sans", sans-serif' font-size="7.2" text-anchor="middle" font-weight="bold" fill="#2a2a2a" stroke="#2a2a2a" stroke-width="0.15" textLength="8.9" lengthAdjust="spacingAndGlyphs">542</text>
<text x="292.2" y="349.5" font-family='"Liberation Serif", serif' font-size="7.6" text-anchor="middle" font-weight="normal" fill="#1a1a1a" stroke="#1a1a1a" stroke-width="0.15" >Binding energy (eV)</text>
</svg>
</body></html>
